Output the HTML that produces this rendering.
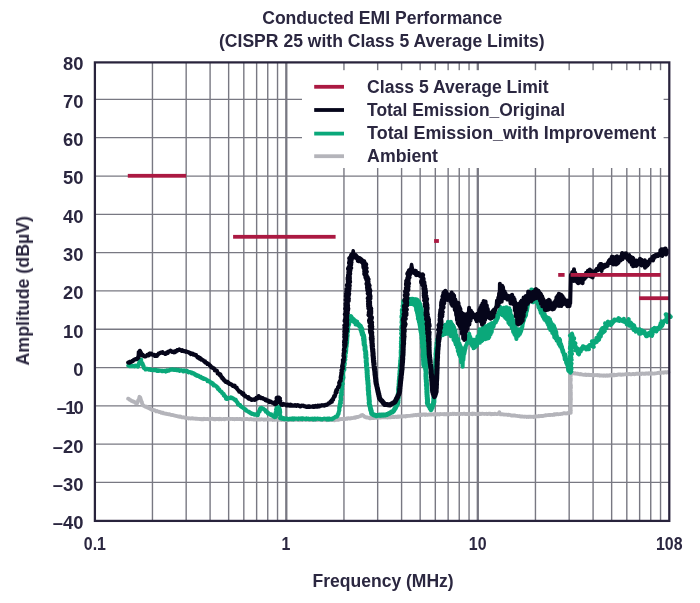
<!DOCTYPE html>
<html><head><meta charset="utf-8"><title>Conducted EMI Performance</title>
<style>html,body{margin:0;padding:0;background:#fff}body{width:700px;height:603px;overflow:hidden;font-family:"Liberation Sans",sans-serif}svg{display:block}</style>
</head><body>
<svg width="700" height="603" viewBox="0 0 700 603">
<rect width="700" height="603" fill="#fff"/>
<g stroke="#787882" fill="none"><line x1="152.45" y1="62.4" x2="152.45" y2="520.9" stroke-width="1.4"/><line x1="186.17" y1="62.4" x2="186.17" y2="520.9" stroke-width="1.4"/><line x1="210.09" y1="62.4" x2="210.09" y2="520.9" stroke-width="1.4"/><line x1="228.65" y1="62.4" x2="228.65" y2="520.9" stroke-width="1.4"/><line x1="243.82" y1="62.4" x2="243.82" y2="520.9" stroke-width="1.4"/><line x1="256.64" y1="62.4" x2="256.64" y2="520.9" stroke-width="1.4"/><line x1="267.74" y1="62.4" x2="267.74" y2="520.9" stroke-width="1.4"/><line x1="277.54" y1="62.4" x2="277.54" y2="520.9" stroke-width="1.4"/><line x1="286.30" y1="62.4" x2="286.30" y2="520.9" stroke-width="2.3"/><line x1="343.95" y1="62.4" x2="343.95" y2="520.9" stroke-width="1.4"/><line x1="377.67" y1="62.4" x2="377.67" y2="520.9" stroke-width="1.4"/><line x1="401.59" y1="62.4" x2="401.59" y2="520.9" stroke-width="1.4"/><line x1="420.15" y1="62.4" x2="420.15" y2="520.9" stroke-width="1.4"/><line x1="435.32" y1="62.4" x2="435.32" y2="520.9" stroke-width="1.4"/><line x1="448.14" y1="62.4" x2="448.14" y2="520.9" stroke-width="1.4"/><line x1="459.24" y1="62.4" x2="459.24" y2="520.9" stroke-width="1.4"/><line x1="469.04" y1="62.4" x2="469.04" y2="520.9" stroke-width="1.4"/><line x1="477.80" y1="62.4" x2="477.80" y2="520.9" stroke-width="2.3"/><line x1="535.45" y1="62.4" x2="535.45" y2="520.9" stroke-width="1.4"/><line x1="569.17" y1="62.4" x2="569.17" y2="520.9" stroke-width="1.4"/><line x1="593.09" y1="62.4" x2="593.09" y2="520.9" stroke-width="1.4"/><line x1="611.65" y1="62.4" x2="611.65" y2="520.9" stroke-width="1.4"/><line x1="626.82" y1="62.4" x2="626.82" y2="520.9" stroke-width="1.4"/><line x1="639.64" y1="62.4" x2="639.64" y2="520.9" stroke-width="1.4"/><line x1="650.74" y1="62.4" x2="650.74" y2="520.9" stroke-width="1.4"/><line x1="660.54" y1="62.4" x2="660.54" y2="520.9" stroke-width="1.4"/><line x1="94.9" y1="99.42" x2="669.3" y2="99.42" stroke-width="1.3"/><line x1="94.9" y1="137.72" x2="669.3" y2="137.72" stroke-width="1.3"/><line x1="94.9" y1="176.03" x2="669.3" y2="176.03" stroke-width="1.3"/><line x1="94.9" y1="214.33" x2="669.3" y2="214.33" stroke-width="1.3"/><line x1="94.9" y1="252.64" x2="669.3" y2="252.64" stroke-width="1.3"/><line x1="94.9" y1="290.94" x2="669.3" y2="290.94" stroke-width="1.3"/><line x1="94.9" y1="329.25" x2="669.3" y2="329.25" stroke-width="1.3"/><line x1="94.9" y1="367.55" x2="669.3" y2="367.55" stroke-width="1.3"/><line x1="94.9" y1="405.86" x2="669.3" y2="405.86" stroke-width="1.3"/><line x1="94.9" y1="444.16" x2="669.3" y2="444.16" stroke-width="1.3"/><line x1="94.9" y1="482.47" x2="669.3" y2="482.47" stroke-width="1.3"/></g>
<rect x="302" y="70.2" width="361.6" height="97.8" fill="#fff" transform="scale(1)"/>
<g fill="none" stroke-linejoin="round" stroke-linecap="round">
<path d="M128.1,398.7 L128.8,398.9 L129.3,399.4 L129.6,399.8 L130.1,400.0 L130.7,400.1 L131.5,400.9 L131.9,400.8 L132.7,401.5 L133.3,401.5 L134.0,401.6 L134.5,402.0 L134.7,402.2 L135.3,402.9 L135.8,403.1 L136.6,403.2 L137.1,403.3 L137.1,402.8 L137.6,402.4 L137.6,401.9 L137.9,401.2 L138.4,400.8 L138.2,400.2 L138.6,399.8 L139.0,398.9 L139.3,398.2 L139.2,398.0 L139.3,397.3 L139.4,396.8 L140.1,397.3 L140.4,397.7 L140.5,398.5 L140.7,399.0 L141.0,399.8 L141.0,400.2 L141.0,400.8 L141.6,401.6 L141.9,401.7 L141.9,402.5 L141.9,403.0 L142.2,403.4 L142.4,404.3 L142.7,404.6 L143.0,405.5 L143.4,405.5 L144.2,406.1 L144.9,406.3 L145.1,406.3 L145.7,406.9 L146.6,406.7 L146.7,407.0 L147.2,407.4 L148.0,407.6 L148.2,407.9 L148.9,408.3 L149.8,408.6 L150.1,408.9 L150.7,408.8 L151.4,409.5 L151.9,409.8 L152.2,409.7 L152.6,410.0 L153.2,409.9 L153.9,410.1 L154.6,410.2 L154.9,410.5 L155.6,410.8 L156.1,411.3 L157.1,411.0 L157.4,411.3 L158.1,411.3 L159.0,412.0 L159.3,411.9 L159.7,411.9 L160.4,412.1 L161.3,412.3 L161.4,412.9 L162.3,412.6 L162.9,412.7 L163.5,413.4 L164.3,413.4 L164.6,413.3 L165.1,413.7 L165.9,413.8 L166.4,413.6 L167.3,414.2 L167.9,414.2 L168.5,414.3 L168.7,414.3 L169.4,414.1 L169.8,414.4 L170.6,414.8 L171.6,414.8 L172.2,415.2 L172.8,415.0 L172.9,415.0 L173.5,415.2 L174.4,415.7 L175.1,415.6 L175.6,415.9 L175.9,415.9 L176.9,416.1 L177.5,416.1 L177.7,416.4 L178.4,416.5 L179.4,416.4 L179.6,416.9 L180.4,416.5 L180.7,416.6 L181.7,417.2 L181.9,417.3 L183.0,417.3 L183.2,417.4 L183.7,417.2 L184.8,417.7 L185.1,418.0 L185.7,418.1 L186.5,417.8 L186.8,418.0 L187.4,418.2 L188.0,418.1 L188.5,418.5 L189.3,418.2 L190.1,418.5 L190.6,418.6 L191.3,418.4 L191.9,418.1 L192.5,418.3 L192.8,418.7 L193.6,418.5 L194.5,418.6 L194.9,418.6 L195.7,418.8 L196.0,418.7 L196.7,418.6 L197.6,418.8 L198.1,419.0 L199.0,418.8 L199.4,418.9 L200.0,419.1 L200.6,419.0 L201.2,419.3 L202.0,419.2 L202.7,418.9 L203.1,419.3 L203.9,418.8 L204.1,419.0 L204.7,418.8 L205.3,419.1 L206.3,419.2 L206.6,419.1 L207.5,418.8 L208.2,419.3 L208.4,419.3 L209.2,419.0 L210.1,419.2 L210.3,419.0 L211.1,418.9 L211.5,418.9 L212.4,418.7 L213.0,419.0 L213.2,418.9 L214.2,419.0 L214.5,419.3 L215.6,419.3 L215.8,418.9 L216.3,419.2 L217.1,418.8 L217.8,419.2 L218.6,418.9 L218.8,419.3 L219.7,419.1 L220.0,418.7 L221.0,419.0 L221.2,419.3 L222.2,419.2 L222.4,419.2 L223.0,419.2 L223.9,418.9 L224.5,419.3 L225.0,418.8 L225.7,418.8 L226.1,418.8 L226.7,418.8 L227.4,418.9 L228.3,418.9 L228.8,418.8 L229.3,418.7 L229.8,418.7 L230.7,419.0 L231.0,419.0 L232.1,418.8 L232.6,419.0 L233.0,419.2 L233.6,419.0 L234.3,419.3 L234.8,419.2 L235.6,419.1 L236.0,418.9 L236.4,418.8 L237.0,419.1 L237.7,418.8 L238.2,419.2 L239.3,419.1 L239.6,418.9 L240.2,419.0 L240.7,419.0 L241.4,419.3 L242.4,419.1 L242.6,419.3 L243.2,419.0 L243.7,419.0 L244.5,419.1 L245.0,419.1 L245.5,419.0 L246.1,419.1 L246.7,418.9 L247.5,419.0 L248.2,419.2 L249.0,419.3 L249.5,419.4 L249.9,419.1 L250.9,419.0 L251.4,419.3 L251.6,419.4 L252.7,419.3 L253.2,419.5 L253.4,419.3 L254.3,419.5 L255.0,419.5 L255.5,419.5 L256.2,419.4 L256.5,419.1 L257.1,419.3 L257.7,419.6 L258.5,419.4 L259.2,419.5 L259.7,419.1 L260.5,419.6 L260.9,419.4 L261.6,419.2 L262.3,419.3 L262.5,419.3 L263.5,419.3 L264.1,419.8 L264.6,419.4 L265.2,419.6 L265.9,419.6 L266.5,419.3 L266.8,419.4 L267.7,419.4 L268.2,419.3 L268.6,419.4 L269.5,419.7 L270.1,419.5 L270.6,419.6 L271.2,419.4 L272.1,419.4 L272.7,419.9 L272.8,419.6 L273.9,419.9 L274.2,419.5 L274.7,419.9 L275.3,419.7 L275.9,419.7 L277.0,419.5 L277.5,419.7 L278.1,419.9 L278.4,420.0 L279.1,419.5 L279.4,419.8 L280.3,419.7 L280.7,419.7 L281.4,420.0 L281.9,420.0 L283.0,419.6 L283.6,420.0 L284.2,419.7 L284.5,419.8 L285.5,419.9 L285.7,419.8 L286.3,419.6 L286.8,420.1 L287.5,420.2 L288.0,419.8 L288.8,419.7 L289.3,420.2 L290.2,420.1 L290.7,420.1 L291.5,419.9 L291.9,419.6 L292.5,419.9 L293.2,420.0 L293.5,419.6 L294.5,419.7 L294.8,419.8 L295.3,420.0 L296.3,419.8 L296.7,419.8 L297.2,419.8 L297.6,419.7 L298.2,420.1 L299.0,419.7 L299.8,420.2 L300.2,419.7 L300.6,419.7 L301.3,419.7 L301.8,419.8 L302.6,420.1 L303.3,419.8 L303.7,419.9 L304.3,419.8 L304.7,419.8 L305.9,419.7 L306.2,420.0 L307.0,419.7 L307.3,419.7 L307.9,419.9 L308.9,420.1 L309.4,419.6 L309.5,420.0 L310.6,419.9 L311.1,419.6 L311.5,420.2 L312.4,420.1 L313.1,419.7 L313.2,419.7 L314.0,420.0 L314.9,420.0 L315.3,420.1 L315.8,419.9 L316.1,420.1 L316.8,420.2 L317.7,419.8 L318.0,419.8 L318.9,420.0 L319.2,419.6 L320.0,419.9 L320.5,419.7 L321.3,419.6 L321.7,419.9 L322.7,420.0 L323.2,419.9 L323.4,419.7 L324.5,420.0 L324.7,419.6 L325.4,420.0 L326.0,419.8 L326.7,420.2 L327.0,419.6 L327.7,419.9 L328.5,419.7 L329.2,420.0 L329.6,419.7 L330.5,419.8 L331.0,419.7 L331.2,420.1 L331.9,420.2 L332.6,419.7 L333.0,419.9 L333.9,420.2 L334.2,419.8 L334.8,420.2 L335.4,419.6 L336.0,419.7 L337.1,419.9 L337.6,419.9 L338.3,419.5 L338.5,419.8 L339.4,419.2 L340.0,419.3 L340.4,419.2 L340.9,419.0 L341.6,419.1 L342.6,418.9 L343.2,418.9 L343.5,419.2 L344.4,418.9 L344.5,418.9 L345.3,419.1 L345.8,418.7 L346.8,418.4 L347.2,418.8 L348.0,418.3 L348.2,418.2 L349.3,418.3 L349.8,418.6 L350.2,418.2 L351.2,418.3 L351.3,418.3 L352.0,418.0 L352.4,418.1 L353.6,417.9 L354.2,417.4 L354.4,417.6 L355.4,417.8 L355.7,417.2 L356.3,417.2 L357.2,416.9 L357.8,417.1 L358.4,417.0 L358.8,416.6 L359.3,416.5 L360.2,416.2 L360.4,416.2 L361.0,415.3 L361.5,415.2 L362.3,415.0 L363.2,415.5 L363.3,415.4 L363.7,416.1 L364.6,416.5 L364.8,417.0 L365.7,417.3 L366.4,417.5 L366.9,417.2 L367.7,417.5 L368.1,417.7 L368.8,417.8 L369.1,417.9 L369.7,418.3 L370.6,417.9 L371.0,418.3 L371.7,417.8 L372.5,418.0 L373.2,417.7 L373.5,418.1 L374.3,418.1 L374.4,417.7 L375.1,417.6 L376.2,417.8 L376.8,417.7 L377.3,417.7 L377.6,417.8 L378.6,417.4 L379.0,417.7 L379.4,417.5 L379.9,417.4 L380.6,417.6 L381.4,417.3 L381.6,417.4 L382.6,417.3 L383.0,417.2 L383.9,417.4 L384.1,417.1 L384.9,417.4 L385.6,417.0 L385.9,417.4 L386.7,417.1 L387.2,417.5 L387.8,417.2 L388.5,417.1 L389.4,417.4 L389.7,416.9 L390.5,416.9 L390.7,417.3 L391.5,417.2 L392.1,417.2 L392.7,416.7 L393.1,416.9 L394.1,417.1 L394.3,416.9 L395.1,416.8 L395.6,416.7 L396.4,417.0 L396.7,416.7 L397.8,417.0 L398.0,416.4 L399.1,416.9 L399.4,416.3 L400.2,416.5 L400.8,416.6 L401.4,416.3 L402.0,416.3 L402.3,416.7 L403.2,416.2 L403.4,416.3 L404.2,416.3 L404.6,416.1 L405.6,416.5 L405.8,416.2 L406.8,415.8 L407.5,415.8 L407.9,416.0 L408.6,415.8 L409.0,415.9 L409.7,415.9 L410.3,415.7 L410.6,415.7 L411.5,415.5 L412.3,415.7 L412.7,415.3 L413.4,415.2 L413.8,415.3 L414.3,415.3 L415.2,415.0 L415.9,414.9 L416.6,415.3 L417.0,414.8 L417.6,414.9 L418.5,414.7 L419.1,415.2 L419.6,415.0 L419.9,415.0 L420.7,415.0 L421.6,414.5 L422.1,414.9 L422.2,414.6 L423.3,414.4 L423.9,414.5 L424.5,414.4 L424.9,414.9 L425.3,414.4 L426.1,414.5 L426.4,414.4 L427.1,414.8 L428.0,414.8 L428.3,414.7 L428.9,414.5 L429.8,414.4 L430.6,414.5 L431.0,414.7 L431.3,414.7 L432.2,414.4 L432.9,414.3 L433.6,414.5 L433.9,414.6 L434.5,414.2 L435.3,414.1 L435.9,414.2 L436.4,414.6 L437.0,414.4 L437.4,414.0 L437.9,414.1 L438.8,414.2 L439.4,414.5 L439.7,414.1 L440.6,414.0 L440.9,414.1 L441.5,414.1 L442.2,414.2 L443.0,414.0 L443.6,414.2 L443.9,414.4 L444.6,413.9 L445.1,414.2 L446.2,414.3 L446.5,414.0 L446.9,414.2 L447.8,414.0 L448.5,414.0 L449.2,414.2 L449.4,414.3 L449.9,414.0 L450.7,413.8 L451.1,414.2 L451.7,414.0 L452.9,413.7 L453.0,414.0 L453.8,414.0 L454.6,413.7 L454.9,413.8 L455.3,414.1 L456.4,414.0 L456.5,414.1 L457.6,413.9 L458.2,413.9 L458.4,413.7 L459.0,413.6 L459.7,414.0 L460.5,414.1 L461.1,413.8 L461.6,413.9 L462.4,413.9 L462.7,414.0 L463.7,413.7 L464.2,413.6 L464.5,413.7 L465.4,414.2 L466.0,413.8 L466.7,413.8 L466.9,414.1 L467.7,414.0 L468.3,414.2 L468.8,414.1 L469.6,414.1 L470.0,414.0 L470.7,413.8 L471.1,414.0 L471.6,414.1 L472.2,413.6 L472.8,414.2 L473.5,413.7 L474.0,413.6 L475.0,414.0 L475.6,414.0 L475.8,414.0 L476.6,414.1 L477.4,414.1 L477.6,414.1 L478.7,414.2 L478.8,413.7 L479.4,413.6 L480.5,414.1 L480.9,414.1 L481.5,413.8 L481.8,413.7 L482.8,413.7 L483.2,413.9 L483.6,413.8 L484.3,414.0 L485.0,413.8 L485.9,413.9 L486.5,414.0 L486.6,413.8 L487.4,414.1 L488.0,414.0 L488.7,413.7 L489.5,413.7 L490.1,413.7 L490.2,413.7 L491.2,414.2 L491.4,413.9 L492.3,414.1 L492.7,413.9 L493.4,414.1 L493.9,414.2 L494.6,413.7 L495.4,413.9 L495.7,414.0 L496.2,414.1 L497.2,414.1 L497.8,413.8 L498.2,413.8 L499.0,413.0 L499.4,412.2 L499.4,413.1 L500.2,414.0 L500.5,414.3 L501.1,414.1 L501.8,414.4 L502.6,414.4 L502.9,414.2 L503.4,414.6 L504.3,414.6 L504.7,414.5 L505.6,414.7 L505.9,414.7 L506.9,414.6 L507.1,414.7 L508.0,415.1 L508.3,414.7 L509.0,414.9 L509.7,414.9 L510.2,415.0 L511.2,415.4 L511.3,415.6 L511.9,415.3 L513.0,415.6 L513.5,415.4 L513.8,415.6 L514.3,415.4 L515.1,415.4 L515.7,415.9 L516.5,415.8 L517.1,415.9 L517.4,416.0 L518.2,416.2 L519.1,416.1 L519.5,416.3 L520.0,416.1 L520.8,416.5 L521.4,416.5 L522.1,416.5 L522.6,416.5 L523.0,416.6 L523.5,416.6 L524.5,416.8 L525.0,416.6 L525.5,416.7 L526.2,416.6 L526.9,417.0 L527.2,416.8 L528.2,416.6 L528.6,417.0 L529.0,416.7 L529.7,416.9 L530.8,416.7 L530.9,416.7 L531.8,416.8 L532.4,416.8 L533.2,416.7 L533.5,417.0 L534.0,416.7 L534.7,416.7 L535.2,416.8 L535.9,416.2 L536.5,416.3 L536.9,416.3 L537.8,416.4 L538.4,416.0 L538.9,416.3 L539.9,416.1 L540.1,416.2 L540.8,415.8 L541.3,416.0 L542.3,415.9 L542.7,415.8 L543.1,416.0 L543.8,415.7 L544.7,415.7 L545.1,415.4 L545.8,415.2 L546.5,415.3 L547.2,415.2 L547.5,415.1 L548.1,415.0 L548.5,415.2 L549.2,414.9 L549.9,415.0 L550.6,415.0 L551.3,414.8 L552.1,415.0 L552.1,414.9 L553.3,414.8 L553.4,414.8 L554.3,414.2 L554.5,414.7 L555.5,414.3 L555.8,414.1 L556.5,414.4 L557.2,414.0 L558.1,414.3 L558.3,414.3 L559.2,414.2 L559.8,414.2 L560.5,414.1 L560.7,413.9 L561.5,413.9 L562.1,413.9 L562.8,413.5 L563.2,413.4 L563.9,413.2 L564.5,413.2 L565.2,413.4 L565.8,413.5 L566.1,413.5 L567.0,413.2 L567.7,413.3 L568.1,413.0 L569.1,412.7 L569.5,412.9 L569.8,412.7 L570.8,412.8 L570.6,412.2 L570.7,411.3 L570.9,410.4 L570.8,410.2 L570.6,409.7 L570.6,408.8 L570.7,408.4 L570.5,407.6 L570.7,407.1 L570.9,406.3 L570.9,405.8 L570.7,405.1 L570.7,404.9 L570.8,404.2 L570.6,403.3 L570.6,402.9 L570.8,402.4 L570.4,401.7 L570.9,401.0 L570.4,400.3 L570.4,399.6 L571.0,399.2 L570.8,398.7 L570.9,398.0 L570.8,397.4 L570.8,396.8 L570.8,396.0 L570.8,395.5 L570.9,394.7 L570.5,394.0 L570.9,394.0 L570.8,393.0 L570.9,392.7 L570.7,391.7 L570.6,391.2 L570.6,390.6 L570.8,390.3 L570.4,389.5 L570.4,388.6 L570.9,388.3 L571.0,387.6 L570.4,387.0 L570.8,386.7 L571.0,385.8 L570.6,385.0 L570.8,384.4 L570.5,383.7 L570.4,383.5 L570.5,383.1 L570.5,382.4 L570.5,381.3 L570.8,380.8 L570.8,380.2 L570.4,379.9 L570.8,379.4 L570.8,378.3 L570.8,378.1 L570.7,377.6 L570.6,377.0 L570.8,375.8 L570.4,375.6 L570.9,374.7 L570.6,374.5 L570.5,373.9 L570.7,372.8 L570.6,372.5 L571.3,372.7 L571.7,372.9 L572.4,373.0 L573.2,373.0 L573.7,373.3 L574.6,373.4 L575.0,373.2 L575.3,373.7 L576.3,373.7 L576.7,373.6 L577.7,373.9 L578.1,373.6 L578.7,374.1 L579.2,374.1 L580.0,374.3 L580.8,374.0 L580.9,374.1 L581.8,374.4 L582.6,374.6 L582.8,374.7 L583.9,374.8 L584.3,374.6 L585.1,374.9 L585.6,375.0 L586.0,374.5 L586.8,375.0 L587.1,375.0 L588.2,374.7 L588.6,375.0 L589.1,374.7 L589.6,375.1 L590.5,374.9 L590.7,375.2 L591.7,374.9 L592.2,375.3 L593.0,375.1 L593.4,375.2 L593.8,374.9 L594.4,375.3 L595.1,375.2 L595.8,375.2 L596.2,375.0 L597.3,375.2 L597.4,375.4 L598.4,375.1 L598.9,375.2 L599.5,375.1 L599.8,375.7 L600.9,375.4 L601.3,375.3 L602.0,375.4 L602.7,375.7 L603.3,375.8 L603.5,375.3 L604.1,375.4 L604.7,375.3 L605.5,375.8 L606.1,375.8 L606.9,375.2 L607.4,375.4 L607.7,375.7 L608.4,375.4 L609.2,375.6 L609.8,375.2 L610.3,375.1 L611.2,375.5 L611.3,374.9 L612.0,375.1 L612.9,375.4 L613.5,374.8 L614.1,375.2 L614.6,375.3 L614.8,374.7 L615.9,375.2 L616.4,374.8 L617.0,375.0 L617.3,374.7 L618.0,374.5 L618.7,374.5 L619.1,374.5 L620.0,374.4 L620.6,374.4 L620.8,374.8 L621.5,374.8 L622.5,374.7 L622.7,374.4 L623.3,374.7 L624.3,374.5 L624.7,374.3 L625.5,374.3 L626.0,374.1 L626.3,374.0 L627.2,374.2 L627.5,374.4 L628.2,374.1 L628.7,374.0 L629.7,374.0 L629.9,374.1 L630.6,374.3 L631.1,374.4 L631.6,374.3 L632.6,373.9 L633.1,373.9 L633.6,373.8 L634.2,374.3 L635.2,374.2 L635.3,373.8 L636.3,373.7 L636.8,373.8 L637.6,373.6 L638.1,373.8 L638.3,373.6 L639.3,373.9 L639.5,373.8 L640.5,373.7 L640.9,373.6 L641.3,374.0 L642.2,373.6 L642.4,373.5 L643.4,373.8 L643.8,373.6 L644.6,373.9 L645.3,373.8 L645.5,373.4 L646.4,373.6 L647.0,373.4 L647.7,373.5 L648.3,373.8 L648.7,373.3 L649.5,373.6 L650.1,373.4 L650.3,373.8 L651.0,373.3 L651.6,373.6 L652.0,373.5 L652.9,373.5 L653.3,373.6 L654.3,373.6 L654.6,373.5 L655.3,373.4 L655.7,373.4 L656.9,373.2 L657.2,373.1 L657.9,372.8 L658.7,372.8 L658.9,372.7 L659.5,373.1 L660.0,372.6 L661.0,372.6 L661.2,372.8 L662.2,372.7 L662.9,372.4 L663.6,372.7 L663.7,372.3 L664.6,372.4 L665.1,372.2 L665.8,372.1 L666.5,372.5 L666.9,372.3 L667.8,372.0 L668.5,372.4" stroke="#b4b4ba" stroke-width="3.8"/>
<path d="M128.3,365.5 L129.3,365.7 L129.5,366.1 L130.5,365.6 L130.6,365.6 L131.4,366.3 L132.3,366.3 L133.0,366.2 L132.8,365.9 L134.3,366.4 L134.2,365.9 L135.2,365.9 L135.7,365.6 L136.2,366.1 L136.4,365.8 L138.0,366.5 L138.2,365.8 L138.3,365.5 L138.7,364.1 L138.7,363.8 L139.0,363.2 L139.1,363.3 L139.4,362.1 L139.6,361.7 L140.3,361.0 L139.9,360.8 L140.0,360.2 L141.1,359.6 L140.6,360.1 L141.1,360.4 L141.0,361.0 L141.4,361.8 L141.6,362.2 L141.7,363.1 L142.7,363.7 L142.7,364.4 L142.6,365.0 L143.1,365.4 L143.5,365.9 L143.4,366.2 L143.6,367.1 L144.0,367.7 L143.9,368.1 L145.0,368.5 L145.3,368.9 L145.6,369.5 L146.2,369.3 L146.7,368.7 L148.0,369.1 L147.8,369.2 L148.8,369.6 L149.1,369.2 L150.5,369.8 L150.3,369.4 L151.1,369.9 L152.0,370.1 L152.8,369.9 L153.3,370.2 L154.0,370.0 L154.6,370.3 L155.3,369.8 L155.9,369.7 L156.4,370.4 L156.8,370.8 L157.5,370.4 L158.3,370.9 L158.7,370.4 L159.2,370.6 L160.1,370.5 L160.4,370.8 L161.0,370.7 L162.0,371.2 L162.3,370.9 L162.6,370.8 L163.2,371.2 L164.2,370.8 L165.2,371.1 L165.7,371.6 L166.5,370.8 L166.5,371.3 L166.7,370.2 L167.9,370.5 L168.8,370.6 L169.0,370.6 L169.6,369.9 L170.4,369.6 L170.7,369.6 L171.3,369.7 L172.2,369.4 L172.3,369.3 L173.2,369.6 L174.0,370.0 L175.0,369.7 L175.1,369.9 L176.3,369.7 L176.4,370.2 L176.7,369.8 L178.2,370.4 L178.3,369.7 L179.3,370.4 L179.8,370.8 L180.5,370.3 L180.4,370.2 L181.4,370.5 L181.7,370.3 L182.7,370.8 L183.1,371.3 L184.0,370.4 L184.4,371.2 L184.9,371.2 L185.2,370.9 L186.6,371.3 L187.1,371.0 L187.5,371.6 L187.9,371.9 L188.8,372.4 L189.4,372.0 L189.6,372.0 L190.9,372.2 L190.8,372.4 L191.9,373.3 L192.6,373.5 L192.6,372.9 L194.0,373.4 L194.5,373.7 L194.5,373.9 L195.0,374.9 L196.1,374.6 L196.5,374.9 L196.7,375.7 L197.8,376.0 L198.2,376.0 L198.6,375.7 L199.9,376.8 L199.8,377.1 L200.9,376.8 L201.3,377.7 L201.7,378.0 L202.0,377.7 L203.1,377.9 L203.2,378.8 L204.0,379.0 L204.3,378.7 L205.0,379.0 L206.2,379.4 L206.3,379.5 L206.9,380.0 L207.3,380.0 L207.6,381.1 L208.4,380.8 L208.8,381.1 L209.3,381.2 L210.2,381.9 L210.2,382.6 L210.7,382.5 L211.9,382.7 L212.0,383.8 L212.9,383.5 L212.9,384.4 L213.4,385.0 L213.7,385.4 L214.5,385.0 L215.0,385.3 L215.7,385.8 L216.4,386.5 L216.3,386.6 L217.0,387.0 L217.7,387.3 L217.7,388.2 L217.9,388.8 L218.5,389.1 L219.1,389.2 L219.3,389.4 L219.6,390.6 L220.1,390.9 L220.4,391.2 L221.0,391.6 L221.4,391.6 L221.8,392.2 L222.1,393.1 L222.7,393.2 L223.7,394.1 L224.0,394.7 L223.6,394.6 L223.8,395.5 L224.8,395.7 L224.9,396.5 L225.5,396.5 L226.0,397.2 L226.2,397.5 L226.0,398.7 L227.0,399.0 L226.6,398.8 L227.3,398.7 L228.1,398.6 L228.4,398.3 L229.6,397.8 L230.4,398.0 L230.8,397.4 L231.1,398.0 L231.7,397.6 L232.8,398.6 L232.8,398.1 L234.0,398.9 L233.8,398.8 L234.5,399.6 L235.0,400.2 L235.8,399.9 L236.1,400.7 L236.5,401.7 L236.4,401.4 L237.4,402.3 L237.8,403.1 L237.9,403.7 L238.2,403.8 L238.0,404.6 L238.8,404.8 L239.8,404.8 L240.1,405.0 L240.6,406.2 L240.6,406.3 L241.8,406.7 L241.9,406.7 L241.9,407.2 L242.7,407.4 L243.1,407.7 L244.0,408.6 L244.1,408.5 L244.8,409.1 L245.7,409.4 L245.6,410.2 L246.0,410.3 L246.7,410.9 L247.4,411.1 L247.6,411.4 L248.5,411.5 L249.2,412.3 L249.1,412.1 L249.9,412.3 L250.1,412.7 L250.8,413.5 L251.5,413.3 L251.9,414.0 L252.6,413.8 L252.9,413.7 L254.4,414.6 L254.1,414.7 L255.6,414.6 L255.3,414.7 L256.2,414.5 L256.9,414.4 L257.9,415.1 L257.9,414.8 L258.2,413.6 L258.0,412.9 L258.1,412.9 L259.2,411.8 L258.8,411.6 L259.7,411.3 L259.3,410.6 L260.2,409.9 L260.0,408.8 L260.8,408.3 L260.6,408.0 L261.2,408.4 L261.7,407.8 L262.7,408.6 L263.6,408.9 L264.1,409.6 L264.2,409.6 L264.2,409.8 L265.1,410.0 L265.6,410.5 L265.8,411.7 L265.9,411.2 L266.7,411.8 L267.4,412.1 L267.9,413.4 L268.4,413.2 L268.5,413.8 L269.3,413.8 L269.6,414.2 L270.5,414.9 L271.3,414.5 L271.2,415.1 L272.1,415.3 L272.2,415.3 L272.9,416.0 L274.1,416.8 L274.6,417.2 L275.2,417.1 L275.6,416.9 L275.6,416.8 L275.3,416.2 L276.1,415.5 L275.8,414.7 L275.6,414.7 L275.4,413.4 L276.2,413.0 L275.7,412.6 L276.1,411.9 L276.2,411.3 L276.5,410.5 L276.1,409.7 L277.0,409.5 L276.3,409.2 L276.6,407.8 L276.9,407.4 L277.0,407.1 L277.5,407.1 L278.1,407.0 L279.3,406.6 L279.2,407.2 L279.3,408.6 L279.5,409.1 L279.7,409.1 L280.0,410.3 L279.2,411.0 L279.6,411.0 L280.2,412.0 L280.1,412.2 L280.1,412.7 L279.7,413.7 L279.5,414.5 L279.8,414.8 L280.3,415.6 L280.6,416.4 L280.6,416.9 L280.8,417.9 L280.1,418.3 L280.8,418.5 L281.8,418.6 L281.8,418.2 L283.0,418.9 L283.6,418.1 L284.1,418.2 L284.6,419.0 L284.8,419.2 L286.0,418.7 L286.1,418.9 L287.4,419.1 L287.2,418.5 L287.9,419.3 L288.5,419.0 L289.3,419.1 L290.0,418.6 L291.1,419.0 L291.5,419.2 L292.4,418.4 L292.4,418.5 L293.2,419.3 L294.1,418.4 L294.1,419.2 L295.2,418.7 L295.6,418.5 L296.6,418.7 L297.2,418.9 L297.0,418.6 L297.8,419.2 L298.8,418.3 L299.0,418.6 L299.9,418.8 L300.4,418.6 L300.6,418.8 L301.6,418.3 L302.3,419.2 L302.5,418.4 L303.8,418.5 L304.0,418.7 L304.6,418.8 L305.5,419.2 L306.5,418.3 L306.7,419.0 L307.6,419.0 L308.0,418.9 L308.3,418.6 L309.4,419.2 L310.1,419.0 L310.1,419.1 L311.2,418.8 L311.7,418.7 L312.2,418.8 L312.3,418.7 L313.2,419.4 L314.0,418.7 L314.3,418.6 L315.1,418.5 L315.3,419.3 L316.4,418.9 L317.1,418.7 L317.3,418.5 L318.1,418.8 L319.1,419.0 L319.9,418.8 L320.5,419.1 L320.3,418.7 L321.4,419.5 L321.8,419.3 L322.4,419.4 L322.7,419.0 L324.1,418.8 L324.1,418.5 L324.6,418.8 L325.7,418.7 L326.0,418.7 L326.8,419.4 L327.4,418.7 L328.1,419.5 L328.6,418.6 L329.4,419.4 L329.5,418.6 L330.0,419.0 L331.3,419.1 L331.9,418.7 L331.9,419.2 L332.8,418.9 L333.4,418.5 L333.3,418.2 L333.8,418.1 L334.6,417.6 L335.4,417.1 L335.8,416.5 L336.8,416.7 L337.3,415.8 L337.5,416.2 L337.7,415.2 L337.7,414.6 L338.4,414.0 L338.6,413.7 L338.4,413.3 L338.6,412.8 L338.8,411.8 L339.0,411.2 L339.1,411.1 L339.3,410.0 L339.4,410.1 L339.2,408.8 L339.4,408.8 L339.2,407.3 L339.6,407.4 L340.0,406.5 L340.4,405.7 L340.3,405.0 L339.7,404.4 L339.8,404.2 L340.5,403.3 L340.9,402.9 L340.2,402.0 L340.8,402.2 L340.3,400.7 L341.0,400.3 L341.2,399.9 L341.0,399.1 L341.2,398.6 L340.8,398.5 L340.6,397.7 L340.6,397.0 L341.0,396.6 L340.7,395.7 L341.2,395.4 L341.8,394.5 L341.1,393.5 L341.2,393.1 L341.2,392.2 L341.8,392.1 L341.4,391.8 L341.4,390.8 L341.4,390.4 L342.2,389.2 L342.1,389.2 L341.7,388.1 L342.0,388.0 L341.7,387.2 L342.2,386.4 L342.2,386.2 L341.9,385.6 L342.2,384.8 L342.7,383.6 L342.8,383.8 L342.3,382.3 L342.2,382.6 L342.1,381.9 L342.3,381.1 L342.3,380.0 L343.0,379.3 L342.7,379.5 L343.2,378.8 L343.5,377.4 L342.8,377.5 L343.3,376.2 L343.2,375.7 L343.2,375.0 L342.8,375.3 L343.2,374.6 L343.1,373.6 L343.2,372.9 L343.3,372.5 L343.3,372.0 L343.7,370.7 L343.6,370.5 L344.3,369.8 L343.6,369.8 L344.3,368.9 L343.8,367.7 L343.8,367.0 L343.7,366.9 L344.1,366.3 L344.1,365.1 L344.5,365.2 L344.4,364.4 L344.6,364.3 L344.8,363.4 L344.4,362.4 L344.5,362.4 L344.5,361.2 L344.6,360.3 L345.3,359.6 L344.9,359.9 L344.6,359.0 L344.8,358.0 L344.7,357.2 L345.4,357.3 L345.5,355.9 L345.4,355.6 L345.4,355.2 L345.1,355.0 L344.8,354.2 L345.7,353.3 L345.5,353.2 L345.2,352.2" stroke="#0aa87a" stroke-width="4.1"/>
<path d="M345.6,352.0 L345.7,351.4 L345.6,350.9 L345.8,350.1 L345.8,349.6 L345.6,349.0 L345.7,348.6 L345.9,347.9 L346.0,347.1 L345.8,346.3 L346.3,345.9 L346.1,345.3 L346.4,344.5 L346.0,344.2 L346.2,343.5 L346.6,343.1 L346.7,341.8 L346.3,341.8 L346.8,340.6 L346.2,340.1 L346.2,339.5 L346.9,339.1 L346.7,338.0 L346.6,338.3 L347.0,337.2 L346.8,336.9 L347.2,335.6 L347.2,335.2 L347.0,334.5 L346.9,334.0 L347.0,332.9 L346.8,333.0 L346.6,331.9 L347.5,331.4 L347.1,330.7 L347.8,329.9 L347.6,330.3 L347.0,329.1 L347.9,328.8 L347.4,327.3 L347.5,327.2 L348.0,326.5 L347.6,326.4 L348.3,325.3 L347.6,325.1 L348.6,323.8 L348.7,324.1 L347.9,323.4 L348.0,321.8 L349.0,321.8 L348.8,321.4 L349.7,321.3 L348.3,320.5 L349.3,319.7 L350.2,319.0 L349.7,319.3 L349.9,318.0 L350.2,318.1 L350.7,317.3 L350.7,316.5 L351.6,317.8 L352.2,318.7 L351.4,318.1 L351.8,319.6 L352.3,318.7 L353.9,320.0 L353.1,320.6 L354.7,320.7 L353.9,321.5 L355.0,321.7 L356.5,322.6 L356.7,321.8 L356.2,322.9 L356.0,324.1 L356.9,323.3 L357.4,323.7 L358.8,324.6 L358.6,324.8 L358.3,325.1 L360.0,326.3 L360.4,325.9 L359.8,326.0 L360.8,326.9 L360.8,327.7 L361.2,328.1 L361.6,328.4 L362.0,329.5 L360.9,329.8 L361.7,330.5 L361.9,330.9 L361.7,332.1 L361.9,332.6 L362.7,333.0 L362.5,334.0 L362.6,334.5 L362.3,334.6 L363.2,334.7 L363.6,335.4 L363.4,336.1 L363.9,337.1 L363.9,337.6 L363.8,338.4 L363.5,338.5 L364.1,339.1 L364.3,339.7 L363.6,340.2 L364.3,341.6 L364.1,341.9 L364.0,342.7 L364.4,342.7 L364.1,343.7 L364.1,344.4 L364.4,344.6 L364.7,345.3 L364.7,345.8 L365.0,346.5 L365.0,347.0 L365.1,348.0 L365.0,348.2 L365.0,349.1 L365.0,349.6 L365.1,350.2 L365.5,350.8 L365.5,351.2 L365.7,351.8 L365.8,352.9 L365.8,353.2 L365.6,353.8 L365.8,354.5 L366.0,354.9 L365.8,355.9 L365.9,356.3 L365.7,356.8 L365.9,357.8 L366.2,358.0 L366.3,358.6 L366.2,359.6 L366.1,360.3 L366.3,360.4 L366.2,361.2 L366.2,362.0 L366.3,362.6 L366.4,362.9 L366.5,363.5 L366.6,364.5 L366.7,365.0 L366.4,365.6 L366.5,366.3 L366.6,366.9 L366.8,367.4 L367.0,367.9 L366.8,368.9 L366.9,369.5 L367.2,369.9 L366.9,370.3 L367.3,370.9 L367.2,371.7 L367.0,372.3 L367.1,372.9 L367.3,373.4 L367.2,374.1 L367.2,374.5 L367.3,375.5 L367.4,376.1 L367.2,376.7 L367.5,377.3 L367.6,377.8 L367.5,378.5 L367.5,378.8 L367.5,379.5 L367.7,380.0 L368.0,380.5 L367.8,381.2 L367.9,382.1 L368.0,382.3 L367.8,383.2 L368.2,383.5 L368.1,384.4 L368.2,384.9 L368.2,385.5 L368.3,385.9 L368.4,386.7 L368.2,387.1 L368.1,388.1 L368.4,388.4 L368.3,389.0 L368.2,389.6 L368.3,390.6 L368.7,391.1 L368.5,391.6 L368.7,392.4 L368.7,392.8 L368.5,393.4 L368.8,394.1 L368.5,394.7 L368.7,395.0 L369.0,395.9 L368.9,396.2 L369.0,397.2 L369.1,397.7 L369.1,398.3 L369.0,398.8 L369.2,399.5 L369.2,399.9 L369.3,400.6 L369.4,401.0 L369.4,401.9 L369.1,402.6 L369.1,402.8 L369.3,403.5 L369.4,404.4 L369.7,404.9 L369.7,405.6 L370.1,406.1 L370.3,406.8 L370.2,407.0 L370.4,408.0 L370.4,408.5 L370.8,409.2 L370.6,409.7 L370.7,410.1 L371.3,410.8 L371.3,411.5 L371.4,411.9 L371.5,412.9 L371.8,413.2 L371.7,413.8 L372.6,414.1 L373.2,414.5 L373.5,414.7 L374.1,415.0 L374.7,415.0 L375.7,415.3 L376.0,415.8 L376.8,415.7 L377.3,415.5 L378.1,415.4 L378.8,415.2 L379.3,415.2 L379.7,415.0 L380.2,415.5 L380.9,415.3 L381.4,415.0 L382.0,415.1 L382.9,415.0 L383.3,415.2 L384.2,415.0 L384.4,414.9 L385.2,415.0 L385.7,414.8 L386.5,414.6 L387.0,414.5 L387.8,414.1 L388.1,414.1 L388.5,413.7 L389.4,413.3 L389.8,413.1 L390.6,412.8 L391.1,412.2 L391.5,412.0 L392.4,412.1 L392.5,411.6 L393.3,411.1 L393.6,410.9 L394.0,410.1 L394.4,409.5 L394.6,409.1 L395.1,408.6 L395.3,408.1 L395.4,407.7 L395.9,407.0 L396.0,406.2 L396.4,406.0 L396.8,405.2 L396.8,404.7 L397.5,404.0 L397.7,403.4 L397.6,402.8 L397.6,402.3 L398.0,402.0 L397.6,401.1 L398.1,400.4 L397.8,400.0 L397.7,399.3 L397.9,398.7 L398.3,398.1 L397.9,397.8 L398.1,397.1 L398.2,396.5 L398.1,395.6 L398.4,395.2 L398.3,394.7 L398.5,393.9 L398.3,393.6 L398.5,392.7 L398.6,392.0 L398.7,391.3 L398.8,391.0 L398.6,390.6 L398.6,389.6 L398.5,389.2 L398.9,388.6 L398.8,388.1 L398.7,387.3 L399.0,387.0 L399.0,386.2 L399.2,385.5 L399.3,385.1 L399.0,384.3 L399.3,383.7 L399.1,383.3 L399.3,382.5 L399.4,382.1 L399.2,381.3 L399.2,380.7 L399.4,380.3 L399.6,379.6 L399.5,379.0 L399.5,378.5 L399.8,377.9 L399.5,377.2 L399.9,376.5 L400.0,376.1 L399.9,375.5 L399.9,374.9 L399.7,374.2 L400.1,373.6 L399.9,372.7 L400.1,372.5 L400.0,371.6 L400.0,370.9 L400.3,370.7 L400.4,369.8 L400.4,369.1 L400.5,368.6 L400.1,368.1 L400.2,367.4 L400.2,366.8 L400.5,366.4 L400.3,365.8 L400.4,364.9 L400.7,364.4 L400.6,363.9 L400.5,363.4 L400.6,362.8 L400.9,362.0 L400.6,361.5 L400.6,360.8 L400.8,360.0 L401.0,359.7 L401.0,358.9 L401.0,358.4 L400.9,357.9 L401.3,357.3 L401.3,356.4 L401.4,355.7 L401.2,355.1 L401.2,354.8 L401.3,354.1 L401.2,353.3 L401.2,352.8 L401.1,352.4 L401.3,351.7 L401.2,351.2 L401.2,350.4 L401.4,350.0 L401.7,349.4 L401.7,348.9 L401.6,348.2 L401.3,347.3 L401.2,347.1 L401.7,346.3 L401.4,345.6 L401.4,345.1 L401.9,344.3 L401.3,343.6 L401.6,343.5 L401.9,342.6 L401.4,341.7 L401.5,341.7 L401.7,341.3 L402.2,340.5 L401.8,339.9 L401.5,338.7 L401.9,338.4 L401.6,337.6 L401.4,337.7 L402.2,337.1 L402.5,336.0 L402.2,335.3 L402.4,335.2 L401.6,333.6 L401.7,333.7 L401.9,332.4 L402.5,332.8 L402.1,331.2 L402.7,331.3 L401.6,330.4 L402.4,330.5 L402.2,329.6 L401.8,328.4 L402.9,328.0 L401.7,327.7 L401.8,326.5 L402.3,326.5 L402.6,326.1 L402.3,324.4 L402.8,323.8 L402.4,323.8 L402.8,323.7 L402.1,323.0 L402.9,322.1 L401.9,322.3 L402.8,320.1 L402.2,321.2 L402.2,319.5 L403.2,319.7 L403.0,318.9 L401.9,317.1 L403.6,317.8 L402.0,315.9 L402.4,316.8 L402.3,315.8 L403.7,315.1 L403.7,313.8 L402.3,312.8 L403.4,312.3 L403.8,312.8 L402.5,312.4 L402.4,311.2 L402.4,311.1 L403.8,310.7 L402.3,310.0 L403.5,309.4 L403.5,308.4 L403.8,308.2 L403.0,306.2 L403.9,306.1 L403.8,305.0 L404.7,304.1 L405.0,305.4 L404.3,303.2 L404.9,302.8 L404.8,302.1 L406.6,302.6 L405.6,301.0 L407.1,302.3 L407.8,300.0 L407.4,300.4 L409.0,300.0 L409.3,301.8 L410.4,299.4 L409.4,299.6 L411.5,300.8 L411.6,300.6 L412.0,301.0 L413.2,301.9 L414.0,301.7 L415.0,301.9 L415.1,300.0 L415.6,302.1 L415.6,302.2 L415.6,302.5 L416.9,302.0 L416.6,301.7 L417.1,302.4 L416.7,303.3 L419.0,304.4 L419.1,305.3 L419.1,306.5 L419.1,305.5 L418.0,306.4 L417.5,306.5 L419.7,308.8 L418.5,309.0 L419.6,309.9 L419.8,309.6 L418.2,310.9 L418.8,311.1 L419.0,311.4 L420.6,311.1 L419.6,312.9 L419.7,314.2 L419.5,314.7 L420.3,315.4 L418.9,314.2 L419.5,316.5 L419.0,315.5 L420.8,317.8 L419.7,317.1 L421.1,318.3 L421.3,319.0 L420.3,318.4 L419.9,320.1 L420.5,319.6 L422.4,321.1 L421.7,321.7 L421.8,322.4 L421.3,321.5 L420.8,322.0 L421.7,322.9 L421.2,324.3 L423.4,325.4 L421.8,326.2 L421.7,325.1 L422.1,326.5 L423.1,327.2 L423.2,326.9 L423.8,328.1 L423.6,328.0 L423.7,329.1 L423.8,331.1 L423.5,330.4 L422.0,330.8 L424.2,331.3 L423.7,333.0 L423.8,332.6 L422.6,333.0 L424.7,334.3 L424.0,335.3 L423.0,334.8 L422.7,337.2 L423.0,338.0 L423.6,338.0 L423.2,338.8 L423.6,338.5 L424.2,338.7 L423.8,340.5 L423.9,340.4 L424.7,340.8 L423.8,341.4 L424.2,342.2 L424.6,343.0 L424.9,343.0 L424.7,344.7 L424.2,344.3 L424.5,345.2 L424.6,346.2 L424.4,346.5 L424.7,347.1 L424.6,347.8 L424.6,348.3 L424.7,349.1 L425.0,349.7 L424.7,350.2 L425.0,350.9 L425.1,351.7 L425.2,351.9 L425.2,352.7 L424.9,353.2 L425.3,353.8 L424.9,354.4 L425.4,355.1 L425.3,355.5 L425.2,356.3 L425.2,357.1 L425.3,357.4 L425.6,358.2 L425.3,358.5 L425.5,359.4 L425.3,360.0 L425.6,360.6 L425.4,361.2 L425.6,361.9 L425.4,362.6 L425.8,363.2 L425.8,363.6 L425.9,364.1 L425.6,364.9 L425.9,365.2 L425.6,365.8 L425.7,366.5 L425.6,367.4 L425.9,368.1 L425.8,368.6 L425.6,369.3 L425.8,369.7 L425.9,370.5 L425.9,371.2 L426.0,371.4 L426.2,372.0 L426.3,372.7 L425.9,373.6 L426.0,373.9 L426.0,374.6 L425.9,375.1 L426.0,375.9 L425.9,376.4 L426.1,376.9 L426.2,377.7 L426.0,378.1 L426.1,379.0 L426.1,379.2 L426.3,380.0 L426.5,380.4 L426.2,381.0 L426.4,381.8 L426.4,382.6 L426.5,383.2 L426.7,383.5 L426.8,384.2 L426.3,385.0 L426.4,385.2 L426.5,385.9 L426.9,386.8 L426.7,387.3 L426.9,388.0 L426.8,388.5 L426.6,388.9 L426.9,389.7 L427.0,390.5 L427.1,390.7 L426.7,391.7 L427.0,391.9 L427.1,392.6 L426.9,393.2 L427.1,394.0 L426.9,394.6 L427.2,395.1 L427.3,395.9 L427.0,396.3 L427.3,397.0 L427.3,397.4 L427.5,398.3 L427.2,398.7 L427.6,399.2 L427.4,400.2 L427.6,400.4 L427.6,401.1 L427.6,401.9 L427.3,402.3 L427.4,402.9 L427.4,403.4 L427.9,404.1 L428.0,404.7 L428.7,405.3 L428.8,405.9 L429.1,406.2 L429.4,406.6 L429.9,407.2 L430.0,408.2 L430.5,408.7 L430.8,409.1 L431.1,409.8 L431.1,409.1 L431.4,408.3 L431.9,407.9 L432.2,407.4 L432.3,406.4 L432.3,406.0 L432.9,405.3 L432.9,404.6 L433.2,404.3 L433.4,403.5 L433.5,403.1 L433.9,402.1 L433.5,402.0 L434.0,401.0 L433.7,400.6 L433.8,399.9 L433.9,399.2 L433.7,398.5 L433.8,397.9 L434.1,397.6 L433.9,397.0 L434.2,396.2 L434.1,395.5 L434.4,395.1 L434.0,394.2 L434.3,393.8 L434.4,393.1 L434.5,392.7 L434.2,392.0 L434.3,391.5 L434.6,390.9 L434.4,389.9 L434.6,389.6 L434.4,388.8 L434.7,388.1 L434.7,387.6 L434.6,387.0 L434.7,386.6 L434.5,386.0 L434.7,385.1 L434.9,384.7 L435.0,384.2 L434.8,383.3 L435.1,382.7 L434.8,382.0 L435.2,381.7 L435.2,381.2 L435.3,380.3 L435.1,379.8 L435.0,379.2 L435.1,378.3 L435.3,377.7 L435.5,377.5 L435.3,376.5 L435.2,376.1 L435.4,375.4 L435.5,374.9 L435.6,374.1 L435.2,373.6 L435.5,373.0 L435.6,372.4 L435.4,371.9 L435.6,371.4 L435.5,370.7 L435.8,370.3 L435.7,369.3 L435.6,369.0 L435.5,368.1 L435.9,367.9 L435.5,367.1 L435.8,366.4 L435.5,366.0 L435.9,365.3 L435.6,364.6 L435.6,364.3 L435.6,363.4 L436.0,362.7 L435.6,362.1 L435.7,361.7 L436.1,360.9 L435.7,360.6 L435.9,359.8 L435.8,359.2 L436.2,358.5 L435.9,358.2 L436.2,357.7 L436.0,357.1 L436.1,356.2 L436.1,355.8 L436.2,354.9 L436.0,354.7 L435.9,354.1 L436.1,353.2 L436.1,352.7 L436.4,351.9 L436.4,351.4 L436.2,351.0 L436.3,350.1 L436.4,349.8 L436.7,349.1 L436.3,348.6 L436.7,348.1 L437.0,347.2 L437.0,346.8 L436.7,346.0 L436.8,345.4 L436.9,344.6 L436.9,344.5 L437.0,343.7 L437.5,343.2 L437.0,342.7 L437.6,342.2 L437.6,341.4 L437.7,340.4 L437.6,339.9 L438.1,339.1 L438.0,338.7 L438.6,338.1 L438.8,338.0 L439.1,336.7 L439.5,336.8 L439.4,336.1 L439.0,335.8 L439.8,334.7 L439.8,334.5 L440.6,334.0 L440.1,332.8 L440.7,332.0 L441.3,331.4 L442.4,331.1 L441.9,330.4" stroke="#0aa87a" stroke-width="4.9"/>
<path d="M405.3,302.2 L405.5,302.3 L406.6,302.8 L406.5,302.2 L408.0,301.8 L408.6,301.9 L408.4,302.1 L409.4,300.9 L410.1,301.9 L410.7,301.4 L411.2,301.9 L412.2,300.9 L412.5,301.2 L414.0,301.8 L413.5,302.2 L414.0,301.9 L415.2,302.2 L415.9,301.4 L416.4,303.0 L417.1,302.9 L416.6,304.1 L417.7,303.9 L418.2,305.5 L417.9,305.3 L418.6,306.6 L418.0,306.3 L418.3,307.5 L418.2,307.8 L418.7,308.6 L418.3,309.6 L419.6,309.6 L419.5,309.7 L419.7,310.8 L419.6,311.9 L419.2,312.5 L419.1,311.9 L419.6,313.7 L420.2,314.4 L419.8,314.9 L420.0,314.4 L420.2,315.9 L420.1,316.2 L420.0,316.4 L420.4,317.3 L420.6,317.3 L420.1,318.2 L421.2,319.4 L420.7,319.3 L421.2,319.7 L421.5,321.3 L421.0,321.5 L421.9,322.3 L422.0,322.8 L421.6,323.6 L422.6,323.1 L422.8,324.2 L421.7,324.3 L422.8,325.8 L422.0,326.1 L422.7,327.4 L422.4,327.7 L422.4,327.5 L422.3,328.4 L423.1,328.9 L422.5,329.3 L422.5,329.9 L422.9,331.0 L422.8,331.5 L423.2,332.8 L423.4,333.4 L423.4,332.9 L423.7,333.5 L423.2,334.0 L424.0,335.8 L423.7,335.6 L423.8,336.2 L424.3,336.8 L423.6,338.1 L424.2,337.5 L424.7,339.2 L424.0,339.7 L424.9,340.0 L424.2,340.4 L424.5,341.6 L424.8,342.6 L424.0,342.4 L425.1,343.6 L424.8,344.1 L424.5,345.1 L424.8,344.9 L424.4,345.1 L425.4,346.7 L424.3,346.7 L424.9,347.5 L424.8,348.7 L424.9,348.8 L425.7,349.6 L425.2,349.8 L425.1,350.8 L425.7,350.9 L425.1,351.6 L425.1,353.0 L425.4,352.7 L425.2,354.1 L424.9,354.5 L424.8,354.4 L424.9,355.8 L425.0,355.6 L424.9,356.3 L425.9,357.5 L426.2,358.4 L425.7,359.0 L425.1,359.6 L425.6,359.2 L426.1,360.7 L425.6,360.2 L426.3,361.8 L426.0,362.7 L425.2,362.0 L425.4,362.5 L426.2,364.0 L425.4,363.9 L425.6,365.2" stroke="#0aa87a" stroke-width="8.4"/>
<path d="M442.7,335.2 L443.2,329.0 L443.7,334.2 L443.9,327.7 L444.7,334.3 L445.1,324.7 L445.4,330.8 L446.2,326.4 L446.5,332.0 L446.9,324.2 L447.4,333.8 L448.0,321.7 L448.4,332.3 L449.2,322.6 L449.5,333.3 L450.1,322.1 L450.8,336.1 L450.9,321.8 L451.8,333.5 L452.3,324.2 L452.7,336.3 L453.4,325.7 L453.6,339.9 L454.1,327.5 L455.2,342.5 L455.3,330.5 L455.7,344.5 L456.4,335.2 L457.1,347.3 L457.6,339.2 L457.9,351.2 L458.3,339.0 L458.9,354.4 L459.5,343.6 L459.8,356.1 L460.4,345.8 L461.1,362.2 L462.0,348.0 L462.6,366.7 L462.9,350.2 L463.3,360.2 L464.1,349.9 L464.2,354.1 L465.2,348.9 L465.5,348.5 L465.7,346.1 L466.5,344.8 L467.0,343.0 L467.9,342.4 L468.3,339.5 L468.5,342.7 L469.2,333.8 L469.6,341.6 L470.2,336.7 L470.8,343.3 L471.4,339.4 L472.0,345.6 L472.1,340.7 L472.9,346.8 L473.2,339.8 L473.6,348.3 L474.3,339.9 L475.0,347.4 L475.4,342.9 L476.0,345.6 L476.2,340.2 L476.9,345.7 L477.4,336.6 L477.9,343.4 L478.6,335.0 L479.2,342.1 L479.6,329.2 L479.8,342.8 L480.5,329.9 L481.3,341.3 L481.9,329.4 L482.4,340.5 L482.6,328.0 L483.2,339.0 L483.6,327.2 L484.5,338.9 L484.6,326.0 L485.3,339.2 L485.8,327.2 L486.3,337.6 L487.0,326.0 L487.6,338.5 L487.5,326.9 L488.4,338.2 L488.7,324.9 L489.3,336.9 L489.8,324.2 L490.6,334.2 L491.1,323.5 L491.7,331.9 L491.9,323.1 L492.8,327.2 L493.5,326.5 L493.5,326.7 L494.1,322.6 L494.7,323.2 L495.3,320.0 L496.0,322.3 L496.7,316.1 L496.8,320.3 L497.2,314.9 L497.8,318.2 L498.7,312.0 L498.8,315.0 L499.7,310.0 L500.3,313.7 L500.4,307.1 L501.4,313.9 L501.6,308.5 L502.4,315.2 L502.7,308.2 L503.2,314.8 L503.8,307.8 L504.4,316.7 L504.9,308.5 L505.4,318.0 L505.7,307.6 L506.7,319.0 L506.7,307.4 L507.6,319.8 L508.0,309.5 L508.5,322.8 L509.3,308.4 L509.8,324.5 L510.3,310.5 L510.8,325.0 L511.5,315.3 L511.8,327.9 L512.5,316.7 L513.2,332.0 L514.0,320.9 L514.4,334.3 L515.1,325.8 L515.4,335.7 L515.6,326.7 L516.4,338.9 L516.8,329.1 L517.5,336.3 L518.1,330.4 L518.5,335.7 L519.1,329.4 L519.9,334.0 L520.4,329.7 L520.5,332.7 L521.2,330.6 L521.5,329.2 L522.4,326.4 L522.5,324.9 L523.2,321.8 L524.0,320.0 L524.3,317.6 L524.6,317.6 L525.6,315.9 L526.0,315.2 L526.2,312.4 L526.8,311.2 L527.6,306.5 L527.9,304.8 L528.5,301.4 L528.8,301.2 L529.2,295.4 L529.8,300.8 L530.3,293.6 L531.0,298.2 L531.3,289.5 L531.8,299.8 L532.4,289.9 L533.1,302.3 L533.9,290.4 L534.0,301.2 L534.9,295.2 L535.2,298.0 L535.7,298.5 L536.3,300.9 L536.9,301.4 L537.6,303.5 L538.3,305.2 L538.5,307.4 L539.2,307.5 L539.9,309.9 L540.3,310.0 L540.8,313.0 L541.7,309.4 L542.3,315.4 L542.7,309.9 L542.9,316.6 L543.6,310.7 L544.1,318.8 L544.8,314.2 L544.9,320.0 L545.4,316.2 L546.3,321.2 L546.7,317.0 L547.2,322.8 L547.8,317.7 L548.0,324.7 L548.7,318.1 L549.2,328.2 L549.9,319.2 L550.3,329.9 L550.8,321.8 L551.6,329.7 L552.0,324.1 L552.3,333.0 L552.7,324.2 L553.5,334.1 L554.1,326.1 L554.3,337.2 L554.9,328.4 L555.4,338.3 L556.2,331.9 L556.6,340.4 L556.8,335.6 L557.3,340.9 L557.8,338.3 L558.7,344.0 L559.3,338.9 L559.8,345.5 L560.0,339.7 L560.3,346.7 L561.1,344.2 L561.9,349.4 L561.9,346.5 L562.6,352.1 L563.0,350.1 L564.0,355.5 L564.4,354.4 L564.8,359.3 L565.4,354.6 L566.2,362.9 L566.7,359.1 L567.1,364.9 L567.6,363.4 L568.2,370.4 L568.6,365.9 L569.0,371.4 L569.8,368.0 L570.2,371.0 L570.4,372.7 L570.5,371.6 L571.2,371.5 L570.4,369.8 L571.3,369.3 L569.3,368.6 L570.8,369.4 L570.7,368.2 L571.4,367.9 L570.2,366.5 L571.0,365.6 L569.4,365.7 L571.1,364.2 L570.9,365.1 L569.5,362.7 L570.4,362.6 L571.5,363.6 L570.3,362.5 L570.8,360.4 L571.6,359.8 L569.5,359.9 L569.4,359.4 L570.3,359.9 L570.4,359.0 L571.3,357.8 L570.0,356.5 L570.6,356.1 L571.0,355.8 L570.2,355.5 L571.9,353.9 L570.3,352.8 L569.7,352.3 L570.5,353.6 L571.2,353.3 L571.6,351.8 L571.0,349.8 L570.5,349.8 L571.1,348.8 L570.9,348.9 L570.8,348.4 L569.9,348.6 L571.6,347.6 L570.0,347.0 L571.8,347.4 L571.5,344.5 L571.8,345.4 L570.4,345.4 L571.7,344.7 L570.4,343.4 L570.7,342.1 L571.6,342.3 L570.6,341.5 L572.1,341.0 L572.0,340.4 L572.3,338.5 L571.0,339.1 L571.6,339.5 L571.4,337.7 L571.5,337.3 L571.6,337.7 L570.0,335.6 L572.1,334.3 L571.9,333.7 L572.6,335.9 L571.7,335.5 L571.8,336.9 L572.7,337.3 L572.4,337.9 L574.0,338.9 L574.1,338.3 L573.2,339.2 L573.0,340.8 L572.7,340.9 L574.3,342.4 L572.6,341.4 L573.9,343.6 L573.3,344.0 L574.0,343.9 L575.4,343.3 L574.1,344.2 L573.9,345.1 L575.5,346.3 L574.4,347.4 L575.6,346.4 L576.6,348.6 L575.5,349.5 L577.2,348.3 L575.5,350.4 L577.7,349.1 L577.9,351.3 L577.8,352.0 L578.9,351.4 L578.9,353.4 L577.9,353.4 L579.0,354.3 L579.1,352.5 L578.7,352.6 L578.8,352.9 L580.9,350.9 L580.8,351.4 L579.7,351.2 L581.6,349.5 L580.5,349.0 L582.5,349.0 L583.1,347.8 L581.8,347.8 L584.1,346.9 L582.6,347.9 L582.3,348.2 L582.9,346.3 L586.3,349.4 L585.7,347.4 L584.5,347.0 L586.1,349.2 L589.0,349.3 L588.8,349.0 L587.3,347.0 L588.5,346.0 L591.1,345.3 L589.5,345.1 L592.6,346.4 L591.2,344.7 L593.7,346.9 L591.9,344.7 L594.3,342.7 L591.9,341.5 L593.5,344.3 L592.2,342.2 L596.6,341.9 L594.0,343.1 L596.8,340.3 L593.4,341.1 L596.8,341.9 L596.7,338.5 L596.4,337.8 L596.4,338.2 L599.0,339.8 L599.4,337.2 L599.9,335.1 L600.1,337.0 L600.2,335.4 L601.1,333.0 L600.8,336.3 L598.8,335.8 L598.4,334.9 L600.0,332.8 L599.1,334.2 L602.1,330.4 L603.7,330.5 L601.1,331.0 L602.5,332.8 L604.7,331.1 L602.3,328.2 L601.2,329.7 L604.1,328.9 L606.4,328.2 L603.8,327.8 L603.3,329.9 L605.7,327.5 L605.3,325.6 L605.1,326.3 L606.2,328.2 L607.1,324.1 L605.1,323.4 L607.0,326.1 L610.2,323.2 L610.3,323.9 L609.7,324.1 L607.9,321.6 L611.5,324.3 L610.7,325.1 L613.4,321.9 L610.3,322.8 L613.7,321.0 L611.4,322.0 L611.9,322.9 L615.3,320.4 L615.0,320.0 L614.3,319.5 L617.9,320.5 L618.0,319.8 L619.0,320.7 L618.8,319.5 L618.9,318.3 L621.5,320.3 L619.9,319.9 L618.4,318.2 L619.6,320.9 L619.2,319.2 L624.0,321.0 L623.9,318.9 L622.2,321.0 L623.2,321.3 L624.0,321.7 L625.8,322.2 L628.2,320.5 L628.7,319.1 L628.6,319.6 L627.5,321.7 L629.1,321.8 L626.8,324.4 L629.0,324.7 L629.1,321.6 L631.0,322.9 L630.0,322.2 L629.4,325.8 L632.4,326.0 L631.3,326.8 L632.9,324.7 L632.7,326.9 L634.1,325.4 L632.6,326.4 L632.1,326.8 L635.6,328.3 L633.4,329.4 L633.6,329.8 L634.3,327.1 L635.2,329.4 L635.8,331.6 L639.5,329.1 L639.2,331.3 L638.8,329.5 L641.3,333.2 L637.4,330.5 L639.4,330.1 L640.5,333.8 L639.1,333.8 L641.1,330.1 L644.5,331.6 L641.8,331.2 L643.1,331.5 L642.8,332.4 L645.3,333.4 L644.6,333.9 L647.5,335.0 L646.1,336.0 L648.9,334.4 L648.0,333.4 L647.0,336.2 L649.9,332.5 L651.9,335.9 L648.1,334.6 L649.6,333.5 L653.0,332.2 L651.9,333.4 L650.9,332.8 L652.5,334.2 L651.8,332.5 L651.6,330.0 L652.5,329.1 L655.0,328.8 L656.7,328.1 L656.4,331.4 L654.5,327.9 L658.0,328.7 L659.2,327.7 L657.1,330.2 L657.3,329.8 L660.3,325.7 L659.1,328.8 L657.4,328.0 L661.0,327.0 L660.6,323.5 L662.8,323.1 L662.3,325.6 L660.5,325.0 L661.4,324.9 L660.1,325.3 L662.1,324.3 L663.0,323.9 L662.5,322.1 L661.6,321.4 L662.2,322.7 L665.4,320.1 L667.2,322.1 L667.5,317.5 L666.7,320.1 L666.6,316.2 L668.5,317.7 L667.3,319.1 L666.1,314.8 L669.6,315.5 L665.7,314.3 L670.7,316.8" stroke="#0aa87a" stroke-width="4.1"/>
<path d="M128.1,362.5 L129.4,362.8 L129.6,361.9 L130.0,362.6 L130.0,361.7 L130.6,362.1 L131.3,361.8 L132.7,361.2 L132.3,360.9 L133.4,360.4 L133.5,360.1 L134.9,359.4 L135.5,359.5 L135.3,359.0 L136.1,359.2 L136.8,359.2 L137.3,358.5 L138.4,357.8 L137.8,357.7 L138.2,356.8 L138.4,356.1 L139.1,356.1 L139.1,355.7 L139.0,355.2 L138.6,354.5 L138.6,353.7 L139.1,353.4 L138.7,352.2 L139.5,352.2 L139.8,350.7 L140.0,351.1 L140.9,352.5 L141.1,353.1 L141.2,353.5 L142.0,354.2 L142.0,354.7 L142.3,355.3 L142.9,354.9 L143.3,355.6 L143.8,356.1 L144.2,356.3 L144.8,356.6 L146.0,356.0 L145.4,356.5 L146.4,355.8 L147.2,355.4 L147.3,354.7 L148.6,355.5 L148.5,354.7 L149.1,353.9 L150.3,354.5 L150.0,353.5 L151.1,353.9 L151.4,353.6 L151.7,354.4 L153.0,354.7 L152.7,354.7 L154.3,355.1 L154.3,354.7 L154.3,355.6 L154.9,356.0 L156.2,355.9 L157.0,356.0 L157.2,354.7 L157.6,354.7 L157.7,354.9 L158.8,353.5 L158.7,353.4 L159.7,353.0 L160.0,353.2 L160.2,352.7 L160.9,352.6 L162.3,352.2 L162.5,352.1 L162.8,353.0 L163.7,352.9 L163.6,352.9 L164.9,353.2 L165.2,354.0 L166.4,353.6 L166.1,353.4 L166.7,353.3 L167.1,352.4 L167.9,352.8 L168.1,351.7 L168.6,351.4 L169.4,351.3 L170.4,351.0 L170.6,350.7 L171.5,351.5 L171.7,351.7 L172.1,351.9 L173.1,351.8 L173.5,351.5 L173.8,352.4 L174.7,352.3 L175.4,351.8 L175.6,351.1 L176.3,351.4 L177.1,350.3 L177.8,350.5 L177.5,349.9 L178.2,350.3 L179.2,349.4 L179.4,349.5 L180.0,349.8 L181.2,350.5 L181.7,350.9 L182.3,350.1 L182.2,350.4 L183.0,351.0 L184.3,351.3 L184.4,351.1 L185.7,351.9 L185.6,351.2 L187.0,351.7 L187.5,351.7 L187.9,352.1 L188.8,352.2 L188.5,352.3 L190.0,353.4 L190.5,353.2 L190.7,353.0 L191.0,354.1 L191.6,353.9 L192.6,353.6 L193.3,354.7 L193.7,354.1 L194.8,354.9 L195.1,354.7 L196.0,354.9 L195.7,355.5 L196.6,356.1 L197.2,356.8 L198.1,356.8 L197.6,357.6 L198.0,357.3 L198.7,358.0 L199.9,357.8 L199.9,359.1 L200.8,358.5 L201.3,359.7 L201.5,359.2 L202.4,359.8 L202.3,359.9 L203.1,360.2 L203.6,361.0 L204.3,361.2 L205.1,361.2 L205.1,362.5 L206.3,362.8 L206.7,362.7 L207.2,363.1 L206.9,363.0 L207.4,364.1 L208.1,364.0 L208.8,364.0 L209.5,365.2 L210.1,365.7 L210.0,365.2 L210.9,366.3 L210.9,366.3 L211.1,367.2 L212.0,367.6 L212.3,367.4 L213.0,368.3 L213.9,368.2 L214.1,368.7 L214.7,369.6 L214.8,369.5 L214.8,370.6 L215.9,370.3 L215.5,370.6 L217.0,370.8 L217.2,371.9 L217.3,372.3 L217.6,372.8 L217.6,373.6 L218.1,373.1 L219.2,374.1 L219.8,374.6 L220.3,374.3 L219.6,375.0 L220.9,375.4 L221.0,376.6 L221.0,376.7 L222.3,377.5 L222.1,377.6 L222.3,378.6 L223.3,378.8 L223.2,379.3 L223.8,379.8 L224.0,380.4 L224.8,380.3 L225.2,381.1 L225.7,381.7 L225.5,381.9 L226.9,381.8 L227.6,381.7 L227.5,382.8 L228.6,382.7 L229.3,383.4 L228.6,383.1 L229.2,384.0 L230.1,383.9 L230.8,383.9 L231.9,385.1 L232.1,384.9 L232.4,385.4 L233.0,386.1 L234.3,386.1 L234.7,385.6 L234.4,386.2 L234.8,386.8 L236.3,387.8 L236.6,387.5 L236.1,387.7 L236.6,388.3 L237.3,389.0 L237.8,389.8 L238.1,390.0 L238.7,390.9 L239.2,391.0 L239.4,391.2 L239.3,391.7 L240.5,391.8 L241.3,392.9 L241.8,393.2 L241.9,392.8 L242.1,393.9 L243.5,393.5 L242.8,394.1 L243.7,394.8 L243.9,395.4 L244.7,395.8 L245.2,395.5 L245.5,396.6 L246.5,396.8 L246.4,396.8 L247.7,397.7 L248.4,397.0 L248.2,398.5 L248.9,398.8 L249.1,398.0 L250.4,398.7 L250.5,399.1 L251.1,399.9 L252.2,399.9 L252.1,399.9 L252.4,399.4 L254.2,399.3 L254.1,399.8 L254.6,400.0 L255.8,399.3 L256.5,398.8 L256.7,398.6 L256.5,397.8 L258.0,398.2 L257.8,397.7 L258.8,397.4 L258.7,396.1 L259.3,397.3 L260.1,397.2 L260.7,397.2 L260.9,398.0 L261.0,398.3 L261.4,398.2 L262.6,398.0 L263.5,398.6 L263.2,398.9 L264.2,399.2 L264.1,399.1 L265.5,399.3 L265.5,400.4 L266.8,400.7 L266.6,399.9 L267.9,400.9 L268.0,400.4 L268.6,400.9 L269.4,402.1 L269.5,401.2 L270.7,401.5 L270.7,402.1 L272.1,402.2 L271.9,402.6 L272.3,402.7 L273.5,402.8 L274.2,402.9 L273.9,403.6 L274.9,404.2 L275.1,404.2 L276.3,403.9 L275.7,403.6 L276.6,402.8 L276.3,402.4 L276.6,401.4 L276.2,400.8 L276.7,400.7 L277.3,399.6 L276.6,398.6 L277.1,398.5 L276.7,397.8 L278.3,397.5 L279.0,397.5 L279.4,398.0 L279.0,398.0 L280.0,398.3 L279.3,399.3 L279.9,400.1 L280.3,400.8 L279.3,400.6 L279.4,401.7 L279.5,402.4 L280.3,402.6 L280.7,403.4 L281.0,403.9 L281.1,404.2 L281.3,404.6 L281.6,404.0 L282.6,404.9 L283.4,403.9 L283.8,404.7 L285.0,404.2 L285.5,404.6 L285.8,404.7 L286.3,405.5 L287.5,405.4 L287.9,405.2 L287.8,404.5 L289.2,405.3 L289.6,404.9 L289.8,405.7 L290.7,404.6 L291.1,405.0 L291.3,405.8 L292.9,405.7 L292.5,405.3 L293.2,405.7 L294.6,405.8 L295.2,405.0 L294.9,405.0 L296.5,406.0 L296.7,405.3 L297.7,405.2 L297.7,405.1 L299.1,405.7 L299.4,406.2 L299.8,406.5 L300.6,406.4 L301.5,405.5 L301.8,405.7 L301.9,405.9 L303.3,405.6 L303.2,405.8 L304.5,406.3 L304.7,406.3 L305.4,406.2 L305.6,406.7 L306.5,406.9 L306.7,407.0 L307.8,406.7 L308.0,406.7 L308.2,406.2 L309.1,406.2 L309.4,406.9 L310.8,406.7 L310.7,406.8 L312.1,406.7 L312.0,406.6 L312.8,406.2 L313.1,406.9 L314.3,406.9 L314.3,406.1 L315.3,405.8 L315.7,406.4 L316.5,406.8 L317.2,406.4 L317.8,406.6 L318.1,405.6 L319.5,406.5 L319.1,405.7 L319.8,406.3 L320.3,405.5 L321.3,405.4 L321.6,405.7 L322.1,405.1 L322.8,405.3 L323.5,405.4 L324.1,405.2 L324.3,405.7 L325.8,405.1 L325.5,404.7 L327.2,404.8 L326.9,404.9 L328.2,403.7 L328.3,403.8 L328.4,403.2 L329.5,403.2 L330.1,402.8 L330.3,401.8 L330.4,402.3 L331.8,401.9 L331.2,401.2 L331.6,400.2 L332.0,400.3 L333.1,399.7 L332.9,399.3 L333.1,398.3 L333.9,397.4 L333.9,396.7 L334.8,396.3 L334.2,395.9 L335.0,395.7 L335.1,395.4 L335.6,394.1 L335.6,393.4 L335.5,392.8 L335.5,392.5 L336.7,392.3 L336.0,391.2 L336.8,391.0 L336.4,389.9 L337.3,389.9 L336.9,389.6 L337.4,388.8 L337.9,387.9 L338.6,387.4 L338.1,386.9 L338.8,386.9 L338.9,385.7 L339.0,385.3 L339.5,385.1 L339.4,383.6 L339.3,383.2 L339.1,383.0 L339.3,382.4 L339.8,381.4 L340.2,381.2 L340.7,380.9 L340.6,379.4 L340.7,379.1 L341.1,378.4 L340.6,377.3 L340.9,377.3 L340.9,376.2 L341.3,375.6 L341.0,375.4 L341.3,374.9 L341.6,374.1 L341.2,373.1 L341.8,373.6 L341.5,372.2 L341.6,372.1 L341.9,371.5 L341.4,370.1 L341.7,369.8 L342.1,369.2 L342.8,368.6 L342.4,368.6 L342.6,367.6 L342.9,366.7 L342.0,366.8 L342.7,365.7 L342.2,365.3 L342.7,364.6 L342.6,364.3 L342.8,362.9 L343.5,362.2 L342.9,361.9 L343.8,360.9 L343.0,361.1 L342.8,360.0 L343.8,359.7 L343.8,358.4 L344.0,358.1 L344.0,357.6 L344.1,357.0 L343.4,356.0 L343.7,355.2 L343.4,355.6 L343.9,355.0 L343.5,353.9 L343.9,352.8 L343.7,353.2 L344.4,352.1 L344.3,351.9 L344.7,351.0 L343.7,350.7 L343.9,349.3 L343.9,349.0 L344.5,348.3 L344.4,347.3 L344.8,347.2 L344.4,346.9 L345.2,346.4 L345.3,344.8" stroke="#05051a" stroke-width="4.0"/>
<path d="M344.7,345.3 L344.6,344.8 L345.0,343.9 L344.8,343.7 L345.1,342.8 L344.6,342.2 L344.9,341.9 L344.7,340.9 L345.4,340.1 L345.1,339.5 L345.3,339.2 L345.5,338.4 L345.5,337.8 L344.7,337.0 L344.7,336.7 L345.8,336.0 L345.5,335.1 L345.3,335.0 L344.8,334.5 L345.3,333.5 L345.9,333.4 L344.9,332.0 L344.8,331.6 L345.7,332.0 L346.3,331.3 L345.0,330.6 L346.0,329.5 L346.5,329.1 L345.0,327.8 L345.1,327.9 L346.0,327.7 L344.9,325.6 L346.7,325.4 L345.4,326.0 L345.1,325.3 L346.8,324.2 L346.2,322.4 L346.2,323.1 L346.6,322.3 L345.2,321.0 L346.5,320.1 L345.3,319.9 L346.8,319.9 L345.9,320.2 L346.4,318.0 L346.4,318.8 L346.0,317.3 L346.5,317.9 L346.7,315.5 L346.6,315.2 L346.4,315.5 L345.4,314.4 L346.1,314.0 L347.3,313.1 L346.9,312.1 L346.1,312.0 L346.7,310.8 L347.3,310.8 L346.4,309.7 L347.5,310.5 L347.8,308.4 L345.9,308.7 L345.8,308.6 L347.3,306.8 L346.8,307.0 L346.2,305.7 L347.6,305.8 L347.2,303.9 L346.4,303.7 L346.1,303.9 L347.3,303.9 L347.3,303.3 L347.1,301.8 L346.8,301.1 L348.2,300.6 L346.2,299.7 L346.7,299.7 L347.4,298.7 L348.4,298.8 L346.5,296.6 L347.9,297.2 L347.9,296.4 L346.5,295.7 L348.3,295.4 L346.6,293.8 L348.6,294.1 L347.0,293.9 L348.7,293.6 L348.1,292.9 L346.9,291.5 L348.6,290.7 L347.1,291.2 L348.4,288.7 L347.0,289.3 L349.0,288.8 L348.9,287.1 L348.3,286.6 L347.8,286.0 L348.1,285.1 L348.6,285.8 L349.2,285.5 L347.4,285.1 L348.5,284.6 L348.4,282.1 L349.0,281.7 L349.6,281.9 L349.5,281.2 L348.3,280.9 L349.2,279.9 L348.2,279.2 L349.3,278.1 L348.1,278.1 L349.2,276.6 L348.4,277.9 L348.5,276.9 L348.6,274.7 L349.0,275.9 L349.7,273.4 L349.6,274.1 L349.2,273.6 L349.3,271.9 L349.7,271.1 L348.9,272.1 L349.6,270.7 L349.9,270.1 L349.3,269.6 L348.5,268.5 L348.6,269.3 L350.6,267.9 L349.0,267.8 L349.3,267.0 L350.2,266.0 L350.5,264.6 L350.7,264.6 L350.6,264.6 L349.5,263.0 L349.8,261.7 L351.0,262.4 L350.2,261.5 L351.1,259.9 L350.0,260.6 L350.4,259.6 L349.8,258.4 L350.7,258.1 L351.4,258.7 L351.9,256.8 L351.4,255.9 L351.5,255.4 L352.6,257.0 L353.9,255.3 L353.3,256.9 L353.3,257.0 L355.6,255.7 L356.4,257.3 L355.8,257.2 L356.9,257.9 L358.0,259.1 L357.4,257.5 L358.9,259.4 L359.2,258.5 L358.4,260.7 L359.6,260.2 L361.4,260.0 L361.3,259.8 L361.7,261.3 L361.4,261.4 L363.8,261.6 L363.7,262.4 L363.9,262.1 L364.4,263.1 L364.3,263.4 L363.4,263.3 L363.9,265.0 L365.1,264.4 L365.7,264.5 L363.8,265.7 L364.0,267.7 L364.7,267.1 L366.0,268.1 L365.6,268.5 L365.3,270.3 L364.9,270.0 L365.5,269.8 L364.8,271.3 L366.3,271.8 L364.8,273.5 L365.0,274.0 L364.9,274.1 L365.2,273.9 L366.0,275.5 L366.1,275.4 L366.2,276.2 L366.0,277.8 L365.9,276.5 L366.8,277.6 L367.3,277.5 L367.3,278.8 L368.0,279.3 L367.0,279.9 L367.4,280.4 L367.8,281.3 L368.0,281.6 L367.5,282.8 L368.2,283.6 L367.6,283.0 L367.0,283.7 L367.3,284.4 L368.4,285.3 L369.0,285.7 L367.7,286.1 L367.5,287.8 L368.6,287.5 L369.2,289.0 L368.5,289.4 L369.0,289.7 L367.8,290.1 L369.8,290.8 L369.1,290.8 L369.5,293.1 L368.6,292.7 L369.0,293.0 L368.3,293.4 L369.4,294.9 L370.0,296.5 L369.9,297.1 L369.9,295.7 L368.3,298.4 L370.0,298.3 L369.5,298.5 L369.1,298.4 L369.4,299.3 L368.5,301.3 L369.5,301.9 L368.9,301.8 L368.9,303.0 L368.8,303.2 L369.6,303.1 L368.6,304.1 L369.6,305.4 L368.9,304.6 L369.2,306.6 L369.1,306.8 L368.7,306.2 L370.2,307.8 L368.9,308.3 L370.7,308.8 L369.9,309.4 L369.9,309.2 L370.7,311.0 L369.6,311.0 L369.3,313.0 L370.7,312.4 L370.2,313.4 L369.4,312.9 L370.6,313.7 L370.2,314.0 L369.1,315.0 L370.5,316.5 L371.3,317.3 L370.3,316.4 L371.3,318.1 L371.1,317.7 L371.1,319.2 L369.8,319.7 L369.5,320.7 L369.9,321.5 L369.8,322.1 L370.9,322.8 L371.6,322.5 L371.1,323.3 L371.5,324.8 L371.3,324.9 L370.3,326.1 L371.7,326.8 L370.6,327.1 L371.3,327.7 L371.5,327.6 L370.8,328.8 L371.3,329.0 L371.7,328.7 L370.4,330.0 L370.6,331.2 L370.6,331.9 L370.9,331.4 L371.7,332.7 L371.2,333.2 L371.5,334.3 L371.4,334.3 L371.4,334.8 L371.7,335.0 L371.8,336.6 L371.9,336.7 L371.5,336.9 L371.3,337.9 L372.1,338.8 L371.5,339.3 L372.1,339.7 L372.1,340.1 L371.8,340.9 L372.1,341.5 L371.9,342.3 L372.0,342.7 L372.0,343.3 L372.3,343.8 L372.3,344.5 L372.1,345.3 L372.2,345.7 L372.5,346.2 L372.3,346.8 L372.4,347.6 L372.5,348.0 L372.5,348.7 L372.6,349.3 L372.8,349.9 L372.7,350.5 L372.7,351.1 L372.9,351.6 L372.9,352.3 L373.0,352.9 L373.1,353.5 L373.0,354.0 L373.1,354.8 L373.0,355.3 L373.1,355.9 L373.3,356.5 L373.3,357.2 L373.3,357.7 L373.4,358.3 L373.5,358.9 L373.4,359.6 L373.5,360.1 L373.7,360.8 L373.6,361.4 L373.6,362.0 L373.7,362.4 L373.9,363.0 L374.0,363.6 L373.9,364.3 L374.0,364.9 L374.1,365.6 L374.2,366.2 L374.3,366.7 L374.4,367.4 L374.4,367.9 L374.4,368.5 L374.5,369.1 L374.6,369.7 L374.7,370.4 L374.8,370.9 L374.9,371.6 L374.9,372.1 L375.0,372.7 L375.1,373.4 L375.0,373.9 L375.2,374.5 L375.2,375.2 L375.3,375.7 L375.4,376.4 L375.5,376.9 L375.5,377.5 L375.6,378.1 L375.6,378.7 L375.8,379.4 L375.8,380.0 L375.8,380.6 L375.8,381.3 L376.0,381.7 L376.0,382.4 L376.1,383.0 L376.3,383.6 L376.3,384.2 L376.6,384.7 L376.7,385.4 L376.8,385.9 L377.0,386.5 L377.1,387.2 L377.2,387.8 L377.4,388.4 L377.5,388.9 L377.6,389.5 L377.7,390.1 L377.9,390.6 L377.9,391.4 L378.2,391.9 L378.3,392.5 L378.4,393.1 L378.4,393.7 L378.8,394.2 L378.8,394.8 L378.9,395.5 L379.0,396.1 L379.3,396.7 L379.3,397.3 L379.4,397.8 L379.7,398.4 L380.0,398.8 L380.3,399.3 L380.7,399.8 L381.1,400.3 L381.6,400.6 L382.0,401.1 L382.4,401.5 L382.8,402.1 L383.1,402.6 L383.5,402.9 L383.9,403.5 L384.3,403.9 L384.6,404.4 L385.3,404.4 L386.0,404.5 L386.7,404.5 L387.3,404.7 L387.9,404.7 L388.7,404.8 L389.2,404.9 L389.9,405.0 L390.4,404.6 L391.0,404.3 L391.7,403.9 L392.1,403.7 L392.8,403.2 L393.4,402.8 L393.9,402.6 L394.5,402.3 L394.9,401.9 L395.2,401.4 L395.5,400.8 L395.8,400.3 L396.2,399.7 L396.3,399.1 L396.5,398.7 L397.0,398.1 L397.1,397.7 L397.5,397.2 L397.8,396.5 L397.9,395.9 L398.2,395.4 L398.4,394.9 L398.8,394.3 L399.0,393.8 L399.2,393.2 L399.3,392.8 L399.5,392.0 L399.6,391.6 L399.6,390.9 L399.7,390.2 L399.6,389.8 L399.7,389.2 L399.9,388.4 L399.8,387.9 L399.9,387.3 L400.0,386.6 L400.1,386.0 L400.2,385.5 L400.2,384.9 L400.2,384.4 L400.4,383.7 L400.4,383.1 L400.5,382.5 L400.5,381.9 L400.5,381.2 L400.7,380.8 L400.8,380.0 L400.8,379.5 L400.9,378.9 L400.9,378.3 L401.1,377.7 L401.1,377.1 L401.0,376.5 L401.1,375.9 L401.2,375.3 L401.4,374.7 L401.4,374.1 L401.5,373.4 L401.5,373.0 L401.6,372.4 L401.7,371.7 L401.6,371.2 L401.8,370.5 L401.8,369.9 L402.0,369.4 L402.0,368.6 L402.0,368.0 L402.0,367.4 L402.0,366.9 L402.0,366.3 L402.1,365.6 L402.2,365.0 L402.1,364.5 L402.3,363.9 L402.3,363.2 L402.4,362.5 L402.5,362.0 L402.5,361.3 L402.4,360.8 L402.6,360.1 L402.6,359.5 L402.7,359.0 L402.7,358.4 L402.6,357.7 L402.6,357.1 L402.7,356.5 L402.8,356.0 L402.9,355.3 L403.0,354.6 L402.9,354.1 L403.0,353.4 L403.0,352.9 L403.1,352.2 L402.9,351.6 L403.1,351.1 L403.1,350.4 L403.1,349.8 L403.2,349.3 L403.1,348.7 L403.1,348.0 L403.1,347.5 L403.3,346.8 L403.1,346.0 L403.3,345.7 L403.1,345.1 L403.5,344.3 L403.4,343.8 L403.6,343.2 L403.4,342.7 L403.4,341.6 L403.5,341.3 L403.3,340.6 L403.3,340.0 L403.7,339.8 L403.5,339.2 L403.2,338.3 L403.8,338.0 L403.5,336.7 L404.1,336.6 L403.8,335.7 L403.2,335.3 L403.6,335.1 L403.9,334.3 L403.8,333.7 L403.3,333.5 L403.9,332.3 L403.4,331.0 L404.2,331.3 L404.1,330.0 L403.9,330.2 L404.2,329.8 L403.3,329.0 L403.1,328.2 L404.1,326.6 L403.9,327.0 L404.7,325.3 L404.1,326.1 L403.3,325.7 L405.0,324.0 L403.6,323.0 L403.6,322.9 L404.7,323.4 L404.4,322.9 L404.2,321.6 L403.3,320.5 L403.4,319.2 L405.2,318.6 L404.1,318.9 L404.6,317.2 L403.8,318.0 L404.5,316.1 L404.7,316.1 L405.9,314.8 L404.1,314.2 L405.0,315.6 L405.5,313.1 L405.0,313.0 L406.0,313.2 L405.3,311.6 L404.9,311.6 L404.8,311.1 L404.3,310.1 L406.3,309.5 L405.3,309.7 L406.0,309.0 L405.1,308.4 L404.7,307.5 L404.4,306.0 L404.7,305.7 L406.0,304.4 L406.4,304.0 L406.6,305.2 L405.9,304.4 L406.7,302.9 L406.5,301.4 L406.4,302.1 L406.4,300.4 L404.9,300.7 L406.1,300.4 L405.2,299.5 L407.0,298.2 L406.7,299.1 L406.4,297.3 L405.9,296.7 L405.3,295.2 L405.7,294.8 L407.1,294.6 L407.1,294.4 L407.2,294.5 L406.8,292.8 L405.8,292.4 L406.1,292.4 L405.6,291.4 L406.3,290.3 L406.8,290.9 L407.9,288.9 L407.9,289.6 L407.0,288.1 L406.4,288.0 L407.1,287.3 L408.1,286.4 L407.7,285.6 L406.5,284.8 L406.5,283.5 L408.6,283.4 L406.8,282.9 L406.7,282.6 L407.2,281.1 L408.1,282.1 L406.8,281.0 L408.2,279.9 L407.9,278.2 L407.8,278.7 L407.8,279.1 L407.9,278.1 L409.0,277.3 L408.4,276.0 L409.2,274.5 L407.9,273.7 L408.6,274.0 L409.6,274.4 L408.5,272.8 L408.2,272.9 L409.5,271.1 L410.7,270.3 L409.5,270.7 L412.0,269.7 L411.1,270.8 L411.8,271.5 L411.6,270.3 L412.8,272.0 L412.8,272.0 L415.1,272.9 L415.4,271.2 L415.2,271.9 L415.0,272.2 L416.9,273.3 L416.1,272.9 L416.4,274.6 L418.5,273.9 L419.6,275.2 L418.5,273.8 L419.1,274.9 L420.5,274.9 L421.5,275.1 L421.1,275.7 L422.6,275.0 L421.7,275.8 L422.4,277.1 L422.7,278.3 L423.1,278.8 L422.4,280.3 L423.0,279.5 L421.6,281.4 L421.6,282.0 L423.7,282.0 L423.9,282.5 L423.6,283.1 L422.6,282.5 L423.9,283.9 L422.7,284.8 L423.1,284.7 L424.6,286.1 L424.5,287.1 L424.0,286.9 L424.1,287.3 L425.0,289.0 L424.0,289.3 L423.9,288.4 L425.1,290.7 L424.4,291.8 L425.3,290.9 L425.5,292.7 L424.2,293.4 L424.9,292.6 L424.9,293.8 L425.3,293.9 L424.3,295.3 L425.8,296.0 L425.2,297.0 L424.4,296.0 L424.5,297.6 L425.7,297.5 L425.7,297.6 L424.7,300.3 L426.6,298.9 L426.2,300.5 L426.0,301.9 L426.3,302.7 L426.4,303.2 L425.3,303.7 L425.8,304.5 L426.9,305.2 L426.8,304.5 L426.4,306.0 L425.4,306.1 L426.6,307.1 L426.2,307.5 L427.1,307.6 L427.0,309.3 L426.4,309.1 L426.7,310.4 L426.3,309.8 L426.6,311.2 L426.1,312.5 L426.9,312.6 L426.8,311.7 L426.8,313.5 L426.2,315.0 L427.3,314.4 L426.1,314.6 L426.9,316.1 L426.6,316.3 L426.8,317.1 L427.8,317.6 L428.0,318.5 L426.6,319.1 L427.5,320.0 L428.5,319.7 L428.4,320.0 L428.0,320.2 L428.5,321.7 L427.7,322.5 L427.6,322.5 L428.3,323.9 L427.0,323.8 L428.9,324.5 L427.6,325.7 L427.8,327.0 L429.0,326.0 L427.6,326.7 L428.0,327.6 L428.5,329.2 L427.5,328.4 L427.6,329.5 L427.7,330.3 L428.1,331.3 L429.0,332.3 L428.2,332.4 L427.8,333.0 L428.9,333.9 L427.9,333.6 L428.9,334.9 L428.8,334.7 L428.6,335.3 L428.8,336.8 L428.3,336.5 L428.8,338.2 L428.7,338.2 L428.5,339.2 L429.0,339.4 L428.4,340.5 L428.6,340.7 L428.6,341.5 L429.1,341.9 L429.0,342.5 L428.8,343.3 L429.1,343.9 L428.9,344.5 L429.1,345.2 L428.9,345.5 L428.8,346.2 L428.9,346.6 L429.1,347.4 L429.1,347.9 L429.0,348.7 L429.1,349.3 L429.1,349.8 L429.2,350.5 L429.1,351.1 L429.2,351.7 L429.2,352.3 L429.3,352.9 L429.2,353.5 L429.2,354.1 L429.3,354.8 L429.5,355.4 L429.4,355.9 L429.5,356.5 L429.5,357.1 L429.7,357.7 L429.8,358.4 L429.9,359.0 L429.9,359.6 L429.9,360.1 L430.1,360.9 L430.1,361.3 L430.1,362.0 L430.2,362.6 L430.3,363.3 L430.4,363.9 L430.5,364.4 L430.6,365.0 L430.6,365.7 L430.7,366.2 L430.8,366.8 L430.8,367.5 L430.9,368.2 L430.9,368.6 L431.1,369.3 L431.1,370.0 L431.2,370.5 L431.2,371.1 L431.2,371.8 L431.2,372.3 L431.2,372.9 L431.3,373.6 L431.3,374.2 L431.5,374.7 L431.5,375.3 L431.6,376.0 L431.5,376.5 L431.5,377.1 L431.7,377.8 L431.7,378.4 L431.7,378.8 L431.8,379.6 L431.8,380.2 L431.8,380.7 L432.0,381.3 L432.0,382.0 L432.0,382.5 L432.1,383.2 L432.1,383.8 L432.2,384.4 L432.1,385.1 L432.3,385.6 L432.4,386.3 L432.4,386.7 L432.4,387.4 L432.4,388.0 L432.4,388.7 L432.5,389.1 L432.5,389.7 L432.6,390.4 L432.7,390.9 L432.7,391.6 L432.9,392.2 L433.2,392.8 L433.2,393.5 L433.6,394.1 L433.7,394.8 L433.9,395.5 L434.2,396.0 L434.4,396.6 L434.5,396.0 L434.9,395.5 L435.1,394.8 L435.3,394.2 L435.5,393.5 L435.7,392.9 L435.8,392.2 L436.1,391.7 L436.1,391.0 L436.1,390.3 L436.1,389.8 L436.1,389.2 L436.2,388.6 L436.3,387.9 L436.3,387.3 L436.3,386.8 L436.3,386.1 L436.3,385.5 L436.4,385.0 L436.5,384.3 L436.4,383.7 L436.4,383.3 L436.4,382.5 L436.4,382.0 L436.5,381.4 L436.4,380.8 L436.6,380.2 L436.6,379.6 L436.6,378.9 L436.7,378.3 L436.7,377.8 L436.7,377.1 L436.6,376.5 L436.8,375.9 L436.7,375.4 L436.8,374.8 L436.8,374.2 L436.9,373.5 L436.9,372.9 L436.9,372.4 L436.9,371.8 L436.9,371.1 L437.0,370.5 L436.9,370.0 L437.0,369.2 L437.1,368.7 L437.1,368.1 L437.1,367.6 L437.0,366.8 L437.0,366.3 L437.1,365.6 L437.1,365.0 L437.2,364.4 L437.2,363.7 L437.2,363.2 L437.1,362.5 L437.2,362.0 L437.2,361.4 L437.2,360.8 L437.4,360.1 L437.2,359.7 L437.3,359.0 L437.4,358.3 L437.5,357.7 L437.5,357.2 L437.5,356.6 L437.4,355.9 L437.5,355.3 L437.5,354.6 L437.5,354.0 L437.7,353.4 L437.6,353.0 L437.7,352.3 L437.7,351.6 L437.7,351.1 L437.8,350.5 L437.8,349.7 L438.0,349.1 L438.0,348.6 L438.0,348.1 L438.0,347.5 L438.1,346.9 L438.3,346.1 L438.3,345.7 L438.3,344.8 L438.4,344.5 L438.2,343.5 L438.1,343.2 L438.2,342.8 L438.4,342.3 L438.7,341.3 L438.3,340.7 L438.7,340.4 L439.0,339.3 L438.3,339.0 L438.9,338.4 L439.1,338.0 L439.0,337.4 L438.5,336.9 L439.1,335.4 L438.6,335.4 L438.8,335.2 L438.8,334.0 L439.1,334.0 L438.9,333.3 L439.6,332.3 L439.9,332.2 L439.7,331.1 L438.7,329.9 L439.7,329.2 L439.7,328.9 L439.3,329.1 L440.2,328.4 L439.5,327.4 L440.6,327.5 L439.9,325.3 L440.5,324.6 L439.0,325.2 L439.3,324.8 L440.3,323.0 L440.9,324.2 L440.4,323.5 L440.8,321.8 L441.0,322.3 L440.8,319.8 L440.1,320.5 L440.2,318.8 L440.5,318.1 L440.6,317.4 L441.2,317.1 L441.7,316.2 L441.2,316.8 L440.3,316.2 L441.1,315.6 L440.4,314.6 L441.9,314.4 L440.7,313.1 L442.2,311.9 L441.3,312.3 L441.3,310.6 L440.7,311.9 L441.5,310.0 L441.6,308.9 L440.9,310.0 L442.5,308.0 L441.6,307.1 L441.7,307.5 L442.7,306.8 L443.0,307.3 L442.5,304.6 L441.6,305.3 L441.7,305.2 L441.7,302.7 L443.8,302.9 L442.9,302.7 L442.1,301.5 L442.7,301.8 L443.7,301.0 L442.5,299.9 L444.2,298.7 L443.1,299.0 L444.6,297.1 L444.1,297.5 L443.8,297.7 L443.0,296.5 L443.6,296.3 L444.6,294.9 L443.5,295.0 L444.8,294.0 L445.0,294.2 L444.0,293.0 L445.4,291.5" stroke="#05051a" stroke-width="5.1"/>
<path d="M352.2,256 L353.2,250.6 L354.3,256 M410.5,270 L411.6,264.4 L412.8,270.5" stroke="#05051a" stroke-width="3.4"/>
<path d="M444.9,296.0 L445.4,291.6 L446.0,298.1 L446.4,293.5 L447.2,300.1 L447.6,294.3 L448.2,299.5 L448.9,294.6 L449.0,299.9 L449.7,296.0 L450.3,301.2 L450.5,295.2 L451.3,304.1 L451.7,292.6 L452.3,305.7 L453.1,294.2 L453.6,304.9 L454.1,295.5 L454.8,310.0 L455.3,299.4 L456.2,315.2 L456.3,302.0 L457.0,320.1 L457.3,302.4 L457.7,323.2 L458.5,302.9 L458.9,325.0 L459.5,306.7 L460.0,326.6 L460.4,308.8 L460.7,328.4 L461.6,312.6 L461.9,333.8 L462.9,314.2 L463.2,338.5 L463.6,314.1 L464.3,340.0 L464.7,314.5 L465.0,339.5 L465.6,318.2 L466.3,331.3 L466.8,314.0 L467.5,328.9 L468.2,313.0 L468.2,325.3 L469.1,307.8 L469.4,324.5 L469.8,309.9 L470.7,320.5 L471.0,310.8 L471.3,316.6 L472.1,312.4 L472.8,316.1 L473.0,314.7 L473.9,317.1 L474.4,314.6 L474.9,317.5 L475.1,315.2 L475.8,319.5 L476.6,315.4 L476.6,321.2 L477.2,313.7 L477.7,319.2 L478.2,314.1 L478.6,319.4 L479.3,309.8 L480.0,320.9 L480.2,307.8 L481.1,321.7 L481.3,305.6 L482.0,324.6 L482.4,303.5 L483.0,323.5 L483.6,301.1 L484.3,322.2 L484.8,301.5 L485.2,319.6 L485.6,301.6 L485.8,318.2 L486.8,305.4 L487.0,316.2 L487.8,308.9 L488.2,315.8 L488.7,314.4 L489.4,318.1 L490.1,314.6 L490.5,318.8 L490.6,313.6 L491.5,318.4 L491.6,312.2 L492.2,317.2 L492.7,311.0 L493.3,317.1 L494.0,309.5 L494.4,313.0 L495.0,310.5 L495.5,309.3 L496.2,306.6 L496.5,307.1 L497.0,300.4 L497.6,306.5 L498.3,297.4 L498.6,304.8 L499.1,293.3 L499.7,300.0 L499.9,283.8 L500.6,302.0 L501.1,286.2 L501.7,301.6 L502.2,285.7 L502.5,298.0 L503.0,287.1 L504.0,298.2 L504.7,291.6 L505.2,297.5 L505.6,293.4 L505.8,297.3 L506.7,295.9 L507.3,299.6 L507.5,295.5 L508.3,298.9 L509.0,296.3 L509.5,300.1 L509.8,298.6 L510.6,303.4 L511.2,295.6 L511.9,303.0 L512.1,294.7 L512.8,303.9 L513.6,297.6 L513.7,304.1 L514.5,299.1 L514.9,310.4 L515.3,302.1 L515.9,316.3 L516.3,303.5 L517.3,323.6 L517.4,306.5 L518.3,324.4 L518.8,305.7 L518.9,324.1 L519.6,303.4 L520.4,323.3 L520.6,301.7 L521.4,322.3 L521.7,300.4 L522.7,320.8 L522.8,300.5 L523.7,316.3 L523.6,297.4 L524.2,312.1 L524.7,297.8 L525.7,309.4 L525.8,296.1 L526.5,304.1 L527.1,295.7 L527.7,303.9 L528.2,291.5 L528.4,302.6 L528.9,292.4 L529.5,301.1 L530.0,292.3 L530.3,301.0 L531.0,292.4 L531.4,301.4 L532.2,292.3 L532.5,299.8 L533.2,291.8 L533.3,299.6 L534.1,291.8 L534.6,298.7 L535.4,289.5 L536.0,298.3 L536.0,289.1 L537.1,297.9 L537.2,290.1 L537.6,297.4 L538.4,290.8 L539.1,298.0 L539.2,292.1 L539.9,300.5 L540.5,293.4 L540.9,303.7 L541.3,294.8 L542.2,306.2 L542.3,296.6 L542.8,304.8 L543.3,298.9 L543.9,305.6 L544.3,302.3 L544.9,309.8 L545.8,302.9 L546.2,310.3 L546.8,301.1 L546.9,309.6 L547.5,300.9 L548.0,309.8 L548.8,299.8 L549.2,309.3 L549.8,300.6 L550.4,306.4 L551.2,303.2 L551.9,308.0 L552.3,305.3 L552.5,309.5 L553.4,303.2 L554.0,308.9 L554.2,302.3 L554.9,307.3 L555.4,300.8 L555.8,305.1 L556.5,297.3 L556.7,305.3 L557.6,295.8 L558.1,305.7 L558.8,293.8 L559.1,305.9 L559.3,294.6 L560.3,305.2 L560.5,294.6 L561.4,306.0 L561.5,295.1 L562.0,304.5 L562.6,296.3 L563.2,304.2 L563.7,298.1 L564.5,303.8 L564.7,300.6 L565.0,303.4 L566.1,300.5 L566.3,304.7 L567.0,300.5 L567.4,306.2 L567.8,302.9 L568.4,304.5 L568.6,302.4 L569.5,306.1 L570.0,301.5 L570.2,303.4 L570.9,274.7 L571.4,278.0 L572.3,271.9 L572.6,277.9 L573.2,271.9 L573.7,280.9 L574.0,269.3 L574.5,278.7 L575.3,273.1 L575.4,280.7 L576.2,275.4 L576.7,281.3 L576.9,276.4 L577.3,282.4 L577.9,279.9 L578.2,283.3 L578.9,279.0 L579.4,282.8 L579.7,278.6 L580.6,281.9 L581.1,277.0 L581.6,282.0 L581.8,277.4 L582.6,283.3 L582.7,275.0 L583.2,280.2 L583.7,275.6 L584.6,278.8 L585.3,274.8 L585.7,277.5 L586.1,272.7 L586.3,276.9 L587.3,272.8 L587.3,275.8 L587.9,270.7 L588.4,275.8 L589.0,270.9 L589.7,276.1 L589.9,269.6 L590.7,276.6 L591.2,270.7 L591.8,277.1 L591.7,271.0 L592.6,277.4 L593.2,272.4 L593.6,275.3 L593.8,272.5 L594.2,273.1 L594.7,271.3 L595.3,272.5 L596.0,269.8 L596.7,270.2 L596.8,268.8 L597.7,270.2 L598.3,268.2 L598.6,269.7 L599.1,265.5 L599.5,269.0 L600.2,264.0 L600.3,269.1 L601.2,264.0 L601.6,270.9 L601.8,264.5 L602.2,268.8 L603.1,266.3 L603.7,267.7 L604.0,266.2 L604.3,266.6 L604.9,264.8 L605.3,266.8 L606.2,264.6 L606.7,265.6 L607.2,264.1 L607.6,265.9 L607.8,262.8 L608.3,262.8 L608.9,260.8 L609.5,262.9 L609.9,259.6 L610.7,263.0 L611.1,258.7 L611.2,262.9 L611.8,256.7 L612.2,261.8 L613.2,256.9 L613.2,264.5 L614.2,257.8 L614.4,264.3 L615.0,258.6 L615.3,263.4 L616.1,256.8 L616.2,264.6 L617.0,256.3 L617.5,263.7 L617.9,257.0 L618.5,262.7 L618.8,259.5 L619.7,260.8 L619.9,258.6 L620.7,260.5 L620.9,256.3 L621.5,258.0 L622.1,253.1 L622.5,259.3 L622.9,254.4 L623.3,258.0 L623.8,253.8 L624.5,257.1 L625.0,253.5 L625.3,257.2 L626.0,253.3 L626.8,258.2 L627.5,255.6 L627.7,259.5 L628.3,255.9 L628.8,260.5 L629.2,255.1 L629.8,261.7 L630.3,256.4 L631.1,261.8 L631.6,257.4 L631.8,264.7 L632.7,257.8 L633.1,266.3 L633.4,258.6 L634.4,263.7 L634.6,260.7 L635.4,264.9 L636.0,260.8 L636.2,266.0 L636.7,260.4 L637.2,263.4 L638.0,261.5 L638.3,264.6 L638.9,261.4 L639.5,264.3 L640.0,258.7 L640.6,264.1 L641.4,259.7 L641.6,265.5 L642.3,261.2 L642.9,265.3 L643.3,261.5 L644.1,264.7 L644.7,260.2 L645.0,267.7 L645.7,261.7 L646.1,266.7 L647.1,261.8 L647.5,265.4 L648.0,262.2 L648.3,264.5 L648.9,262.6 L649.5,262.5 L649.9,259.6 L650.7,260.0 L651.2,259.1 L652.1,260.0 L652.5,256.7 L653.0,260.5 L653.6,256.0 L653.8,258.6 L654.7,256.0 L655.2,256.8 L655.4,255.1 L655.8,256.6 L656.3,254.8 L657.0,255.5 L657.5,254.6 L658.0,256.0 L658.3,254.0 L659.4,255.2 L659.9,252.7 L660.2,254.7 L660.4,250.2 L661.4,254.7 L661.5,249.2 L662.3,256.0 L662.5,249.2 L663.3,254.0 L664.0,249.9 L664.5,252.2 L664.7,248.7 L665.5,253.9 L665.6,248.5 L666.1,254.6 L666.6,250.3 L667.4,252.8 L667.9,251.0" stroke="#05051a" stroke-width="4.0"/>
</g>
<rect x="127.8" y="173.9" width="58.3" height="3.8" fill="#ab1942"/>
<rect x="233.1" y="234.9" width="102.5" height="3.8" fill="#ab1942"/>
<rect x="434.1" y="239.1" width="4.8" height="3.8" fill="#ab1942"/>
<rect x="558.2" y="273.0" width="6.4" height="3.8" fill="#ab1942"/>
<rect x="570.6" y="273.0" width="90.0" height="3.8" fill="#ab1942"/>
<rect x="639.1" y="296.3" width="29.9" height="3.8" fill="#ab1942"/>
<rect x="94.9" y="62.4" width="574.4" height="458.5" fill="none" stroke="#28233c" stroke-width="2.25"/>
<rect x="314.2" y="84.9" width="29.8" height="3.8" fill="#ab1942"/>
<rect x="314.2" y="108.1" width="29.8" height="3.8" fill="#05051a"/>
<rect x="314.2" y="131.7" width="29.8" height="3.8" fill="#0aa87a"/>
<rect x="314.2" y="154.3" width="29.8" height="3.8" fill="#b4b4ba"/>
<g font-family="Liberation Sans, sans-serif" font-weight="bold" font-size="17.5" fill="#2b2740" opacity="0.999"><text x="262.2" y="23.7" textLength="240.2" lengthAdjust="spacingAndGlyphs" text-anchor="start">Conducted EMI Performance</text><text x="219.0" y="46.8" textLength="325.6" lengthAdjust="spacingAndGlyphs" text-anchor="start">(CISPR 25 with Class 5 Average Limits)</text><text x="367.1" y="93.2" textLength="181.5" lengthAdjust="spacingAndGlyphs" text-anchor="start">Class 5 Average Limit</text><text x="367.1" y="116.2" textLength="198.0" lengthAdjust="spacingAndGlyphs" text-anchor="start">Total Emission_Original</text><text x="367.1" y="139.3" textLength="289.1" lengthAdjust="spacingAndGlyphs" text-anchor="start">Total Emission_with Improvement</text><text x="367.1" y="162.1" textLength="70.9" lengthAdjust="spacingAndGlyphs" text-anchor="start">Ambient</text><text x="312.5" y="586.6" textLength="141.2" lengthAdjust="spacingAndGlyphs" text-anchor="start">Frequency (MHz)</text><text transform="translate(29,365.5) rotate(-90)" textLength="149.5" lengthAdjust="spacingAndGlyphs">Amplitude (dBµV)</text><text x="83.4" y="69.6" text-anchor="end" transform="translate(83.4 0) scale(1.05 1) translate(-83.4 0)">80</text><text x="83.4" y="107.9" text-anchor="end" transform="translate(83.4 0) scale(1.05 1) translate(-83.4 0)">70</text><text x="83.4" y="146.2" text-anchor="end" transform="translate(83.4 0) scale(1.05 1) translate(-83.4 0)">60</text><text x="83.4" y="184.5" text-anchor="end" transform="translate(83.4 0) scale(1.05 1) translate(-83.4 0)">50</text><text x="83.4" y="222.8" text-anchor="end" transform="translate(83.4 0) scale(1.05 1) translate(-83.4 0)">40</text><text x="83.4" y="261.1" text-anchor="end" transform="translate(83.4 0) scale(1.05 1) translate(-83.4 0)">30</text><text x="83.4" y="299.4" text-anchor="end" transform="translate(83.4 0) scale(1.05 1) translate(-83.4 0)">20</text><text x="83.4" y="337.7" text-anchor="end" transform="translate(83.4 0) scale(1.05 1) translate(-83.4 0)">10</text><text x="83.4" y="376.0" text-anchor="end" transform="translate(83.4 0) scale(1.05 1) translate(-83.4 0)">0</text><text x="80.2" y="414.3" text-anchor="end" transform="translate(83.4 0) scale(1.05 1) translate(-83.4 0)"><tspan dx="3.5">–</tspan><tspan dx="-1.7">1</tspan><tspan dx="-1.8">0</tspan></text><text x="83.4" y="452.6" text-anchor="end" transform="translate(83.4 0) scale(1.05 1) translate(-83.4 0)">–20</text><text x="83.4" y="490.9" text-anchor="end" transform="translate(83.4 0) scale(1.05 1) translate(-83.4 0)">–30</text><text x="83.4" y="529.2" text-anchor="end" transform="translate(83.4 0) scale(1.05 1) translate(-83.4 0)">–40</text><text x="94.9" y="550" text-anchor="middle" transform="translate(94.9 0) scale(0.91 1) translate(-94.9 0)">0.1</text><text x="286.0" y="550" text-anchor="middle" transform="translate(286.0 0) scale(0.91 1) translate(-286.0 0)">1</text><text x="477.7" y="550" text-anchor="middle" transform="translate(477.7 0) scale(0.91 1) translate(-477.7 0)">10</text><text x="669.3" y="550" text-anchor="middle" transform="translate(669.3 0) scale(0.91 1) translate(-669.3 0)">108</text></g>
</svg>
</body></html>
